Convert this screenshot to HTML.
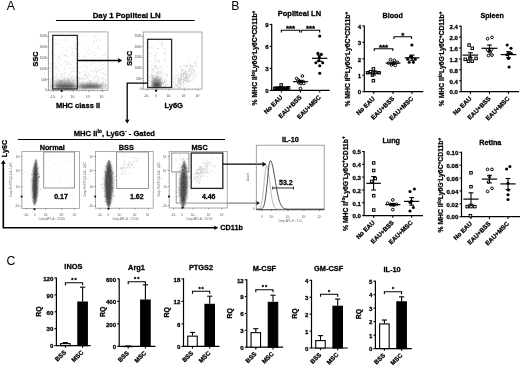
<!DOCTYPE html>
<html><head><meta charset="utf-8"><style>
html,body{margin:0;padding:0;background:#fff;width:520px;height:367px;overflow:hidden}
svg{display:block;font-family:"Liberation Sans", sans-serif;will-change:transform}
text{paint-order:stroke;stroke-linejoin:round}
text[font-weight=bold]{stroke:#000;stroke-width:.28px}
</style></head><body>
<svg width="520" height="367" viewBox="0 0 520 367">
<defs>
<filter id="bl11" x="-50%" y="-50%" width="200%" height="200%"><feGaussianBlur stdDeviation="1.1"/></filter>
<filter id="bl12" x="-50%" y="-50%" width="200%" height="200%"><feGaussianBlur stdDeviation="1.2"/></filter>
<filter id="bl15" x="-50%" y="-50%" width="200%" height="200%"><feGaussianBlur stdDeviation="1.5"/></filter>
<filter id="bl16" x="-50%" y="-50%" width="200%" height="200%"><feGaussianBlur stdDeviation="1.6"/></filter>
<filter id="b08" x="-50%" y="-50%" width="200%" height="200%"><feGaussianBlur stdDeviation="0.8"/></filter>
</defs>
<rect width="520" height="367" fill="#fff"/>
<text x="6.80" y="9.70" font-size="12.3" font-weight="normal" text-anchor="start" fill="#000" >A</text>
<text x="126.70" y="18.40" font-size="7.8" font-weight="bold" text-anchor="middle" fill="#000" >Day 1 Popliteal LN</text>
<line x1="55.90" y1="20.50" x2="194.80" y2="20.50" stroke="#000" stroke-width="1.2" />
<rect x="48.60" y="31.90" width="59.40" height="58.50" stroke="#a0a0a0" stroke-width="0.9" fill="none"/>
<line x1="47.10" y1="36.00" x2="48.60" y2="36.00" stroke="#444" stroke-width="0.6" />
<text x="46.70" y="37.00" font-size="3.0" font-weight="normal" text-anchor="end" fill="#444" >250K</text>
<line x1="47.10" y1="46.90" x2="48.60" y2="46.90" stroke="#444" stroke-width="0.6" />
<text x="46.70" y="47.90" font-size="3.0" font-weight="normal" text-anchor="end" fill="#444" >200K</text>
<line x1="47.10" y1="57.80" x2="48.60" y2="57.80" stroke="#444" stroke-width="0.6" />
<text x="46.70" y="58.80" font-size="3.0" font-weight="normal" text-anchor="end" fill="#444" >150K</text>
<line x1="47.10" y1="68.70" x2="48.60" y2="68.70" stroke="#444" stroke-width="0.6" />
<text x="46.70" y="69.70" font-size="3.0" font-weight="normal" text-anchor="end" fill="#444" >100K</text>
<line x1="47.10" y1="79.60" x2="48.60" y2="79.60" stroke="#444" stroke-width="0.6" />
<text x="46.70" y="80.60" font-size="3.0" font-weight="normal" text-anchor="end" fill="#444" >50K</text>
<line x1="47.10" y1="90.40" x2="48.60" y2="90.40" stroke="#444" stroke-width="0.6" />
<text x="46.70" y="91.40" font-size="3.0" font-weight="normal" text-anchor="end" fill="#444" >0</text>
<line x1="53.20" y1="90.40" x2="53.20" y2="91.90" stroke="#444" stroke-width="0.6" />
<text x="52.70" y="97.80" font-size="3.0" font-weight="normal" text-anchor="middle" fill="#444" >-10³</text>
<line x1="62.00" y1="90.40" x2="62.00" y2="91.90" stroke="#444" stroke-width="0.6" />
<text x="61.50" y="97.80" font-size="3.0" font-weight="normal" text-anchor="middle" fill="#444" >0</text>
<line x1="73.20" y1="90.40" x2="73.20" y2="91.90" stroke="#444" stroke-width="0.6" />
<text x="72.70" y="97.80" font-size="3.0" font-weight="normal" text-anchor="middle" fill="#444" >10³</text>
<line x1="88.80" y1="90.40" x2="88.80" y2="91.90" stroke="#444" stroke-width="0.6" />
<text x="88.30" y="97.80" font-size="3.0" font-weight="normal" text-anchor="middle" fill="#444" >10⁴</text>
<line x1="102.60" y1="90.40" x2="102.60" y2="91.90" stroke="#444" stroke-width="0.6" />
<text x="102.10" y="97.80" font-size="3.0" font-weight="normal" text-anchor="middle" fill="#444" >10⁵</text>
<line x1="54.96" y1="90.40" x2="54.96" y2="91.30" stroke="#777" stroke-width="0.45" />
<line x1="56.72" y1="90.40" x2="56.72" y2="91.30" stroke="#777" stroke-width="0.45" />
<line x1="58.48" y1="90.40" x2="58.48" y2="91.30" stroke="#777" stroke-width="0.45" />
<line x1="60.24" y1="90.40" x2="60.24" y2="91.30" stroke="#777" stroke-width="0.45" />
<line x1="64.24" y1="90.40" x2="64.24" y2="91.30" stroke="#777" stroke-width="0.45" />
<line x1="66.48" y1="90.40" x2="66.48" y2="91.30" stroke="#777" stroke-width="0.45" />
<line x1="68.72" y1="90.40" x2="68.72" y2="91.30" stroke="#777" stroke-width="0.45" />
<line x1="70.96" y1="90.40" x2="70.96" y2="91.30" stroke="#777" stroke-width="0.45" />
<line x1="76.32" y1="90.40" x2="76.32" y2="91.30" stroke="#777" stroke-width="0.45" />
<line x1="79.44" y1="90.40" x2="79.44" y2="91.30" stroke="#777" stroke-width="0.45" />
<line x1="82.56" y1="90.40" x2="82.56" y2="91.30" stroke="#777" stroke-width="0.45" />
<line x1="85.68" y1="90.40" x2="85.68" y2="91.30" stroke="#777" stroke-width="0.45" />
<line x1="91.56" y1="90.40" x2="91.56" y2="91.30" stroke="#777" stroke-width="0.45" />
<line x1="94.32" y1="90.40" x2="94.32" y2="91.30" stroke="#777" stroke-width="0.45" />
<line x1="97.08" y1="90.40" x2="97.08" y2="91.30" stroke="#777" stroke-width="0.45" />
<line x1="99.84" y1="90.40" x2="99.84" y2="91.30" stroke="#777" stroke-width="0.45" />
<line x1="47.70" y1="38.18" x2="48.60" y2="38.18" stroke="#777" stroke-width="0.4" />
<line x1="47.70" y1="40.36" x2="48.60" y2="40.36" stroke="#777" stroke-width="0.4" />
<line x1="47.70" y1="42.54" x2="48.60" y2="42.54" stroke="#777" stroke-width="0.4" />
<line x1="47.70" y1="44.72" x2="48.60" y2="44.72" stroke="#777" stroke-width="0.4" />
<line x1="47.70" y1="49.06" x2="48.60" y2="49.06" stroke="#777" stroke-width="0.4" />
<line x1="47.70" y1="51.24" x2="48.60" y2="51.24" stroke="#777" stroke-width="0.4" />
<line x1="47.70" y1="53.42" x2="48.60" y2="53.42" stroke="#777" stroke-width="0.4" />
<line x1="47.70" y1="55.60" x2="48.60" y2="55.60" stroke="#777" stroke-width="0.4" />
<line x1="47.70" y1="59.94" x2="48.60" y2="59.94" stroke="#777" stroke-width="0.4" />
<line x1="47.70" y1="62.12" x2="48.60" y2="62.12" stroke="#777" stroke-width="0.4" />
<line x1="47.70" y1="64.30" x2="48.60" y2="64.30" stroke="#777" stroke-width="0.4" />
<line x1="47.70" y1="66.48" x2="48.60" y2="66.48" stroke="#777" stroke-width="0.4" />
<line x1="47.70" y1="70.82" x2="48.60" y2="70.82" stroke="#777" stroke-width="0.4" />
<line x1="47.70" y1="73.00" x2="48.60" y2="73.00" stroke="#777" stroke-width="0.4" />
<line x1="47.70" y1="75.18" x2="48.60" y2="75.18" stroke="#777" stroke-width="0.4" />
<line x1="47.70" y1="77.36" x2="48.60" y2="77.36" stroke="#777" stroke-width="0.4" />
<line x1="47.70" y1="81.70" x2="48.60" y2="81.70" stroke="#777" stroke-width="0.4" />
<line x1="47.70" y1="83.88" x2="48.60" y2="83.88" stroke="#777" stroke-width="0.4" />
<line x1="47.70" y1="86.06" x2="48.60" y2="86.06" stroke="#777" stroke-width="0.4" />
<line x1="47.70" y1="88.24" x2="48.60" y2="88.24" stroke="#777" stroke-width="0.4" />
<path d="M68.4 86.1h.01M96.6 84.8h.01M70.8 85.1h.01M54.9 76.8h.01M54.0 49.7h.01M57.0 85.0h.01M85.8 75.6h.01M72.5 88.1h.01M52.6 85.3h.01M80.7 60.6h.01M67.5 78.0h.01M82.4 84.9h.01M71.2 88.1h.01M85.2 86.3h.01M88.6 54.4h.01M102.5 83.4h.01M67.0 86.1h.01M54.6 65.7h.01M79.8 71.2h.01M84.6 84.9h.01M56.7 77.8h.01M103.0 64.7h.01M52.2 51.9h.01M94.8 65.8h.01M69.3 68.8h.01M53.9 85.7h.01M103.7 83.7h.01M91.5 85.7h.01M86.8 59.8h.01M90.7 88.2h.01M51.3 87.1h.01M78.0 88.3h.01M93.6 73.9h.01M102.1 73.1h.01M54.6 79.9h.01M96.5 71.7h.01M65.8 65.1h.01M104.4 85.7h.01M54.7 86.1h.01M77.5 35.8h.01M60.4 84.5h.01M71.0 64.8h.01M87.2 83.9h.01M72.3 35.9h.01M72.4 81.5h.01M53.8 88.6h.01M75.0 85.3h.01M50.0 82.6h.01M80.5 84.3h.01M99.7 69.9h.01M70.7 82.0h.01M77.5 88.7h.01M58.2 89.4h.01M97.1 76.4h.01M79.3 78.5h.01M101.9 89.3h.01M89.5 76.1h.01M79.4 83.2h.01M80.3 66.5h.01M68.7 87.0h.01M95.8 35.5h.01M92.0 86.7h.01M91.5 84.7h.01M94.9 60.4h.01M104.3 86.1h.01M95.9 87.0h.01M54.6 85.8h.01M62.9 79.5h.01M106.0 60.8h.01M97.7 83.7h.01M97.4 88.8h.01M101.7 79.4h.01M100.5 40.6h.01M94.8 62.8h.01M76.3 83.3h.01M91.2 87.5h.01M83.6 75.8h.01M95.8 55.4h.01M87.3 65.7h.01M58.9 88.7h.01M79.9 89.0h.01M74.6 79.1h.01M51.6 78.7h.01M66.6 88.2h.01M80.9 78.9h.01M53.5 83.4h.01M73.9 43.3h.01M58.6 63.3h.01M51.1 87.1h.01M94.1 87.6h.01M53.5 77.5h.01M53.2 88.0h.01M65.7 82.0h.01M51.6 84.8h.01M75.2 48.9h.01M61.3 77.2h.01M75.7 80.6h.01M89.7 85.7h.01M102.4 73.7h.01M57.8 87.8h.01M72.3 71.5h.01M54.2 67.7h.01M94.5 82.1h.01M58.1 86.7h.01M105.0 75.4h.01M100.3 70.1h.01M106.2 80.7h.01M106.5 74.0h.01M69.3 84.8h.01M51.1 52.4h.01M76.1 76.6h.01M85.4 47.1h.01M104.6 75.9h.01M105.2 83.7h.01M54.8 87.1h.01M65.4 72.3h.01M96.6 75.4h.01M73.1 34.7h.01M102.2 83.9h.01M65.9 84.2h.01M74.2 81.0h.01M95.5 85.4h.01M84.5 89.0h.01M75.8 77.1h.01M57.3 40.1h.01M90.3 50.4h.01M52.9 81.5h.01M103.0 82.7h.01M66.5 49.4h.01M88.2 85.8h.01M52.1 82.3h.01M91.6 71.0h.01M64.0 83.4h.01M56.0 76.1h.01M81.0 60.5h.01M105.1 87.5h.01M69.5 84.3h.01M73.0 88.0h.01M50.8 85.1h.01M74.5 47.8h.01M99.4 81.4h.01M84.0 88.6h.01M58.9 81.0h.01M50.2 63.1h.01M68.4 86.8h.01M104.8 88.1h.01M69.0 86.0h.01M77.0 59.4h.01M94.1 89.5h.01M65.0 86.1h.01M72.4 80.9h.01M67.3 83.1h.01M98.5 78.9h.01M87.3 76.4h.01M58.5 88.6h.01M85.6 88.0h.01M82.3 86.4h.01M95.3 88.2h.01M54.8 84.0h.01M71.4 78.4h.01M81.7 81.7h.01M77.8 85.5h.01M55.2 44.9h.01M53.8 89.2h.01M98.1 83.4h.01M91.4 75.8h.01M78.1 42.2h.01M54.4 86.7h.01M85.0 86.0h.01M54.4 82.1h.01M85.3 84.6h.01M50.7 86.6h.01M89.3 80.7h.01M66.5 56.1h.01M93.6 84.3h.01M61.3 80.2h.01M66.4 88.2h.01M96.6 72.4h.01M72.0 87.8h.01M54.2 67.1h.01M104.1 82.4h.01M84.3 87.3h.01M89.9 84.7h.01M78.3 83.8h.01M50.2 68.4h.01M88.7 49.4h.01M69.5 75.1h.01M56.9 82.6h.01M97.7 86.4h.01M103.4 88.7h.01M64.4 88.9h.01M72.3 68.2h.01M102.6 89.3h.01M98.5 88.5h.01M86.1 86.9h.01M64.2 88.6h.01M93.9 53.8h.01M100.2 65.4h.01M81.2 84.3h.01M52.8 88.5h.01M86.6 72.1h.01M77.6 80.9h.01M76.8 78.9h.01M66.0 88.6h.01M73.1 76.4h.01M67.1 82.0h.01M86.5 88.1h.01M61.8 81.7h.01M75.7 79.0h.01M106.6 85.3h.01M63.9 88.1h.01M69.4 79.6h.01M96.0 86.3h.01M100.4 89.4h.01M92.4 81.2h.01M71.4 86.5h.01M82.6 84.6h.01M57.1 78.2h.01M55.3 89.3h.01M71.8 79.1h.01M98.2 86.1h.01M57.2 44.1h.01M105.0 66.4h.01M98.6 46.3h.01M64.1 69.3h.01M105.2 88.0h.01M103.5 81.8h.01M54.8 83.8h.01M50.1 85.8h.01M86.7 74.8h.01M104.7 63.7h.01M89.7 86.0h.01M55.6 83.5h.01M72.0 71.3h.01M94.9 52.2h.01M65.8 89.4h.01M86.6 82.7h.01M81.1 86.5h.01M104.6 88.5h.01M61.0 64.8h.01M54.6 87.2h.01M62.9 85.3h.01M89.5 83.9h.01M61.3 74.6h.01M92.0 84.1h.01M67.7 89.3h.01M63.1 84.7h.01M78.2 81.3h.01M101.7 86.9h.01M103.9 84.7h.01M51.3 53.7h.01M58.1 79.5h.01M75.5 87.7h.01M91.6 52.4h.01M60.8 87.9h.01M92.4 46.1h.01M97.7 84.8h.01M75.1 88.2h.01M70.0 88.5h.01M81.9 88.6h.01M96.7 60.2h.01M55.0 81.3h.01M102.2 84.4h.01M68.4 86.8h.01M64.1 55.6h.01M52.3 88.1h.01M64.6 89.2h.01M101.0 70.5h.01M52.5 78.7h.01M102.5 68.4h.01M102.1 83.4h.01M51.4 86.1h.01M104.2 55.6h.01M94.9 76.9h.01M102.7 81.9h.01M50.5 83.3h.01M84.5 83.8h.01M54.5 86.1h.01M72.2 87.3h.01M77.4 50.6h.01M68.5 81.3h.01M65.0 88.5h.01M59.8 78.1h.01M73.7 40.5h.01M98.1 85.4h.01M94.3 86.0h.01M71.2 77.0h.01M61.3 89.4h.01M66.0 55.7h.01M60.7 83.9h.01M78.8 87.1h.01M86.9 85.9h.01M55.8 69.7h.01M100.1 87.4h.01M52.3 72.2h.01M61.0 87.8h.01M71.1 77.9h.01M94.0 86.2h.01M56.0 80.3h.01M52.1 76.9h.01M58.0 79.7h.01M91.6 83.6h.01M96.3 82.6h.01M60.5 74.6h.01M54.4 55.1h.01M53.6 88.6h.01M95.2 76.1h.01M55.2 85.5h.01M72.6 83.2h.01M73.7 77.7h.01M67.7 63.7h.01M51.0 83.4h.01M86.6 86.3h.01M74.7 84.3h.01M74.1 82.5h.01M76.2 82.1h.01M57.4 73.7h.01M55.1 81.5h.01M102.7 88.7h.01M66.1 62.0h.01M59.8 82.3h.01M67.1 87.9h.01M105.4 79.6h.01M54.9 87.9h.01M89.1 80.6h.01M85.3 48.8h.01M98.1 87.1h.01M52.4 64.4h.01M58.9 86.6h.01M52.3 69.7h.01M97.9 78.4h.01M75.9 59.2h.01M67.5 78.2h.01M74.2 71.8h.01M60.2 85.8h.01M85.2 56.6h.01M94.3 88.1h.01M97.5 88.0h.01M57.3 61.3h.01M70.8 88.0h.01M52.3 80.5h.01M54.7 81.4h.01M100.8 85.5h.01M91.6 81.7h.01M66.4 84.7h.01M89.0 87.5h.01M84.7 78.4h.01M59.0 70.3h.01M58.2 67.7h.01M78.7 86.8h.01M71.1 84.4h.01M88.6 60.6h.01M59.6 84.7h.01M52.8 81.8h.01M104.9 84.9h.01M64.3 73.6h.01M85.8 67.0h.01M71.3 71.9h.01M82.8 56.9h.01M92.2 61.2h.01M67.6 64.6h.01M102.7 84.3h.01M62.6 73.7h.01M85.0 85.1h.01M57.5 85.5h.01M84.8 75.1h.01M70.2 89.1h.01M79.7 73.4h.01M83.5 87.7h.01M70.8 88.4h.01M103.2 85.4h.01M90.2 86.7h.01M99.5 87.7h.01M72.8 88.9h.01M100.7 82.7h.01M64.1 86.2h.01M52.5 81.5h.01M59.0 88.7h.01M50.7 71.4h.01M73.5 55.8h.01M59.9 88.5h.01M90.6 80.4h.01M71.3 81.4h.01M92.1 63.8h.01M60.0 86.4h.01M57.0 89.2h.01M90.4 85.7h.01M105.2 84.3h.01M50.9 89.1h.01M103.7 77.8h.01M60.9 58.4h.01M101.5 50.2h.01M76.7 86.2h.01M74.8 79.0h.01M82.4 78.5h.01M83.2 60.5h.01M101.7 88.9h.01M85.3 88.0h.01M69.6 88.9h.01M57.9 88.7h.01M89.6 88.1h.01M93.3 86.6h.01M96.4 85.9h.01M56.1 89.0h.01M103.9 87.6h.01M96.9 87.3h.01M57.5 84.7h.01M66.7 83.1h.01M64.6 78.8h.01M52.7 83.4h.01M78.6 54.4h.01M85.1 59.1h.01M79.5 88.7h.01M69.7 86.7h.01M90.6 84.7h.01M82.6 78.4h.01M61.5 85.3h.01M50.2 80.2h.01M104.9 86.5h.01M69.7 86.4h.01M66.1 84.1h.01M103.3 89.2h.01M77.8 62.6h.01M94.7 70.0h.01M102.7 86.8h.01M74.0 80.1h.01M64.9 55.1h.01M78.5 77.4h.01M103.6 78.1h.01M80.2 89.3h.01M69.8 62.8h.01M79.6 56.3h.01M92.1 83.0h.01M76.3 87.2h.01M57.2 68.0h.01M86.5 83.2h.01M67.1 38.9h.01M58.8 82.8h.01M84.2 79.5h.01M59.1 88.3h.01M59.3 87.2h.01M61.1 84.2h.01M91.7 75.7h.01M65.6 62.3h.01M61.7 47.6h.01M89.4 82.5h.01M105.7 88.5h.01M84.3 83.4h.01M50.3 85.2h.01M98.1 57.2h.01M98.4 79.4h.01M86.4 86.2h.01M100.8 87.5h.01M94.4 84.3h.01M98.2 48.3h.01M75.9 83.6h.01M100.8 78.1h.01M94.2 85.9h.01M52.2 55.9h.01M62.4 85.4h.01M79.5 79.9h.01M98.1 69.9h.01M79.1 86.6h.01M79.6 73.1h.01M106.2 79.1h.01M72.3 87.7h.01M70.2 87.5h.01M64.3 88.4h.01M73.8 82.3h.01M85.7 87.1h.01M62.7 54.3h.01M103.4 68.7h.01M76.2 88.5h.01M57.3 87.1h.01M90.9 82.8h.01M76.6 81.2h.01M93.2 58.7h.01M70.1 78.3h.01M65.2 73.2h.01M88.6 73.4h.01M50.2 88.4h.01M87.2 76.7h.01M77.2 69.0h.01M58.7 79.6h.01M98.5 61.4h.01M94.5 84.2h.01M80.1 86.5h.01M61.9 85.1h.01M87.3 89.5h.01M98.5 85.8h.01M94.1 79.7h.01M95.0 85.7h.01M84.6 85.3h.01M94.8 86.7h.01M80.1 72.6h.01M88.1 78.3h.01M63.3 86.8h.01M76.9 80.9h.01M89.8 86.3h.01M78.3 81.8h.01M59.1 81.7h.01M76.6 48.5h.01M71.3 72.5h.01M106.8 85.0h.01M86.1 87.2h.01M51.2 64.4h.01M95.9 87.6h.01M79.0 81.0h.01M62.1 83.3h.01M85.5 72.7h.01M81.5 78.4h.01M74.0 70.2h.01M53.0 82.7h.01M72.9 48.6h.01M105.9 84.4h.01M87.2 86.9h.01M68.8 74.0h.01M105.3 86.4h.01M94.5 43.0h.01M81.0 87.9h.01M72.6 82.3h.01M84.6 88.7h.01M94.8 37.3h.01M58.4 56.3h.01M99.8 82.1h.01M85.5 88.4h.01M55.8 89.0h.01M101.9 88.5h.01M71.0 54.7h.01M90.3 64.3h.01M60.5 80.6h.01M86.5 89.3h.01M78.3 34.1h.01M82.7 81.7h.01M75.4 45.1h.01M106.4 88.8h.01M77.0 77.6h.01M62.1 87.6h.01M85.6 89.0h.01M106.0 89.3h.01M62.4 76.4h.01M90.9 83.3h.01M75.6 88.2h.01M94.0 71.4h.01M91.4 53.1h.01M76.2 78.1h.01M101.9 88.5h.01M50.8 85.8h.01M54.5 84.7h.01M104.4 44.5h.01M84.6 59.9h.01M76.7 71.7h.01M58.2 87.3h.01M85.8 62.2h.01M77.1 86.4h.01M94.6 40.9h.01M69.0 77.8h.01M91.2 80.4h.01M83.2 89.1h.01M71.4 85.2h.01M95.9 69.6h.01M89.1 86.8h.01M83.3 86.7h.01M88.9 86.3h.01M80.7 75.2h.01M95.3 85.4h.01M67.6 83.2h.01M88.5 78.9h.01M83.3 88.9h.01M95.0 82.9h.01M93.9 88.6h.01M72.6 54.9h.01M68.2 84.9h.01M83.5 87.5h.01M95.8 79.8h.01M70.6 47.5h.01M98.7 86.3h.01M52.5 85.6h.01M71.1 89.0h.01M94.7 77.5h.01M65.9 39.1h.01M77.6 60.8h.01M62.1 86.6h.01M103.8 73.0h.01M96.5 86.5h.01M69.2 88.1h.01M71.5 85.3h.01M99.5 88.1h.01M77.7 35.5h.01M86.3 82.5h.01M90.1 83.6h.01M86.4 68.4h.01M72.3 85.0h.01M106.3 88.0h.01M59.8 80.6h.01M101.3 86.1h.01M97.6 39.1h.01M53.2 85.4h.01M68.0 78.8h.01M83.5 88.8h.01M93.0 78.3h.01M72.2 80.8h.01M77.3 86.6h.01M101.9 86.9h.01M76.6 77.3h.01M102.7 82.0h.01M54.4 83.8h.01M94.2 86.9h.01M102.6 88.9h.01M75.7 87.3h.01M68.3 88.7h.01M58.1 85.6h.01M91.8 85.8h.01M74.9 81.6h.01M65.1 81.6h.01M82.4 84.6h.01M69.0 80.3h.01M75.9 59.2h.01M56.5 86.8h.01M81.8 88.8h.01M56.8 87.1h.01M106.3 68.3h.01M102.5 84.1h.01M53.3 81.9h.01M58.2 58.5h.01M69.4 82.8h.01M75.2 80.1h.01M52.3 84.1h.01M57.8 86.0h.01M79.6 86.1h.01M54.5 87.0h.01M100.5 87.9h.01M88.1 82.3h.01M61.5 87.6h.01M89.3 81.9h.01M79.4 85.7h.01M69.0 56.8h.01M55.1 39.2h.01M101.7 57.4h.01M64.1 76.1h.01M97.2 83.1h.01M82.7 87.7h.01M70.2 79.9h.01M56.9 80.8h.01M96.4 72.0h.01M82.7 86.9h.01M66.6 51.6h.01M79.2 43.8h.01M95.7 87.5h.01M62.7 85.0h.01M59.5 87.6h.01M51.1 80.1h.01M64.8 67.2h.01M79.7 53.1h.01M55.8 85.2h.01M65.5 54.7h.01M78.0 86.3h.01M56.9 89.5h.01M80.8 84.9h.01M76.2 68.2h.01M59.3 57.0h.01M97.7 85.5h.01M94.1 86.9h.01M72.8 51.8h.01M95.7 68.0h.01M96.3 80.9h.01M58.3 85.2h.01M64.2 69.5h.01M56.2 84.2h.01M53.9 85.2h.01M62.8 75.0h.01M105.1 87.9h.01M96.0 80.2h.01M52.0 67.2h.01M65.5 62.0h.01M95.8 87.7h.01M79.6 86.4h.01M63.4 81.9h.01M86.8 89.0h.01M53.4 54.6h.01M54.8 63.7h.01M80.3 87.0h.01M100.3 77.1h.01M82.8 78.4h.01M66.3 41.1h.01M84.6 79.0h.01M81.2 79.6h.01M76.2 50.0h.01M96.5 87.9h.01M63.8 83.1h.01M105.1 54.1h.01M50.7 79.9h.01M68.4 64.1h.01M77.9 79.2h.01M53.2 77.9h.01M59.0 34.0h.01M87.4 52.4h.01M72.0 83.4h.01M79.6 84.7h.01M73.7 87.3h.01M85.0 81.8h.01M96.6 40.7h.01M65.3 88.0h.01M73.5 52.7h.01M83.3 70.9h.01M72.6 80.4h.01M99.6 88.4h.01M56.3 74.8h.01M91.1 69.8h.01M70.0 68.3h.01M50.4 82.9h.01M71.6 86.4h.01M74.7 54.1h.01M83.0 58.9h.01M105.0 36.4h.01M97.6 69.9h.01M100.6 88.8h.01M51.5 88.1h.01M102.3 55.5h.01M80.6 35.2h.01M91.3 89.1h.01M72.1 76.0h.01M75.7 85.3h.01M88.4 82.3h.01M78.5 86.3h.01M102.7 78.5h.01M77.6 73.5h.01M93.6 41.2h.01M92.4 86.3h.01M59.7 71.1h.01M79.1 79.4h.01M87.3 78.0h.01M100.4 63.1h.01M85.8 74.9h.01M78.7 87.3h.01M73.4 84.7h.01M70.1 87.6h.01M89.3 86.2h.01M50.2 89.4h.01M72.6 88.9h.01M61.2 86.4h.01M79.2 82.9h.01M82.6 86.0h.01M79.4 77.4h.01M56.1 67.2h.01M77.9 78.7h.01M84.8 89.0h.01M88.9 74.4h.01M68.3 87.9h.01M51.9 85.8h.01M98.8 86.8h.01M75.6 86.0h.01M51.1 88.7h.01M75.0 45.1h.01M63.5 85.0h.01M98.5 80.2h.01M50.4 67.3h.01M84.2 65.0h.01" stroke="#b4b4b4" stroke-width="0.72" stroke-linecap="round" opacity="0.75"/>
<ellipse cx="64.5" cy="83" rx="9.5" ry="3.5" fill="#c0c0c0" filter="url(#bl15)"/>
<ellipse cx="90" cy="84.8" rx="11" ry="2.3" fill="#cacaca" filter="url(#bl15)"/>
<ellipse cx="65.5" cy="86.3" rx="10.5" ry="1.7" fill="#555" filter="url(#bl11)"/>
<ellipse cx="90.5" cy="86.5" rx="11.5" ry="1.4" fill="#626262" filter="url(#bl11)"/>
<path d="M67.2 85.7h.01M61.0 82.8h.01M59.7 84.6h.01M57.4 87.9h.01M77.0 86.4h.01M68.1 86.5h.01M64.5 86.0h.01M69.5 84.3h.01M61.5 87.3h.01M68.8 84.4h.01M56.1 81.2h.01M59.4 85.1h.01M59.6 86.2h.01M60.5 86.5h.01M75.7 86.4h.01M65.2 87.0h.01M67.5 88.4h.01M66.8 83.1h.01M54.5 86.6h.01M65.4 87.9h.01M66.3 88.0h.01M59.6 83.7h.01M63.0 88.2h.01M58.5 81.1h.01M73.1 85.8h.01M59.0 85.3h.01M61.9 85.7h.01M65.0 82.5h.01M74.8 88.1h.01M64.1 82.1h.01M74.4 86.4h.01M65.6 86.1h.01M62.7 82.5h.01M65.7 84.2h.01M77.1 87.8h.01M68.4 82.3h.01M69.2 86.8h.01M67.5 83.8h.01M56.8 86.5h.01M56.7 82.6h.01M68.4 85.3h.01M57.8 88.7h.01M60.4 81.4h.01M74.2 86.3h.01M54.4 88.6h.01M69.1 86.9h.01M63.9 88.8h.01M58.2 87.5h.01M55.8 87.4h.01M70.5 88.8h.01M57.0 84.8h.01M72.2 84.8h.01M66.0 88.4h.01M61.2 83.3h.01M67.7 85.4h.01M65.8 82.6h.01M74.9 83.2h.01M57.0 84.1h.01M74.0 85.3h.01M70.1 86.2h.01M65.9 83.8h.01M70.3 84.6h.01M64.2 78.0h.01M61.8 84.8h.01M59.5 85.5h.01M71.2 85.1h.01M61.2 88.0h.01M60.7 81.9h.01M60.0 83.9h.01M63.2 84.5h.01M59.6 82.0h.01M66.2 83.3h.01M68.5 83.3h.01M66.6 87.0h.01M65.8 84.2h.01M67.7 87.6h.01M72.1 87.5h.01M70.9 88.3h.01M58.1 86.0h.01M64.8 85.6h.01M63.8 84.7h.01M59.1 83.2h.01M71.3 88.4h.01M61.2 84.9h.01M62.9 85.0h.01M63.5 84.7h.01M76.4 85.3h.01M61.6 86.6h.01M64.7 85.5h.01M63.2 85.9h.01M69.1 84.7h.01M69.0 87.0h.01M68.5 85.5h.01M57.7 86.8h.01M63.1 88.5h.01M71.5 86.5h.01M71.9 85.5h.01M64.9 83.8h.01M64.7 84.1h.01M55.8 81.4h.01M54.5 86.1h.01M62.5 87.7h.01M69.1 86.8h.01M57.6 83.5h.01M62.3 82.8h.01M73.8 87.5h.01M70.9 86.1h.01M68.5 87.5h.01M72.1 85.2h.01M72.2 83.8h.01M72.7 87.9h.01M61.9 88.6h.01M58.7 88.0h.01M62.3 87.0h.01M67.4 84.4h.01M67.7 86.2h.01M69.4 81.1h.01M71.1 85.8h.01M69.0 86.3h.01M56.4 87.5h.01M73.1 85.7h.01M62.7 84.9h.01M65.5 87.0h.01M61.0 84.1h.01M76.6 85.2h.01M60.8 86.0h.01M63.9 86.2h.01M56.3 83.1h.01M61.7 85.7h.01M66.8 86.1h.01M61.9 81.3h.01M65.7 85.9h.01M68.6 85.4h.01M64.1 83.7h.01M75.8 85.9h.01M61.5 83.3h.01M57.6 86.3h.01M58.7 85.6h.01M56.8 85.1h.01M68.4 87.6h.01M63.1 85.2h.01M68.5 82.5h.01M60.7 88.6h.01M59.2 84.9h.01M59.1 88.2h.01M56.7 85.2h.01M67.5 84.5h.01M64.4 82.4h.01M69.8 88.1h.01M62.2 87.1h.01M60.6 86.4h.01M62.7 84.7h.01M60.5 82.8h.01M66.0 88.2h.01M56.0 84.9h.01M63.8 81.0h.01M54.3 84.0h.01M60.4 82.2h.01M69.7 87.7h.01M53.6 85.6h.01M73.0 84.8h.01M72.0 85.1h.01M56.2 86.6h.01M67.4 88.1h.01M69.8 87.0h.01M60.5 84.3h.01M66.7 86.0h.01M60.5 80.6h.01M62.1 86.1h.01M65.9 86.8h.01M64.2 83.8h.01M57.3 88.9h.01M68.3 82.4h.01M69.6 85.9h.01M65.5 88.4h.01M59.4 85.5h.01M54.0 86.1h.01M61.6 87.4h.01M61.2 88.4h.01M77.9 86.8h.01M65.3 87.9h.01M64.6 85.4h.01M71.4 85.6h.01M66.8 83.3h.01M69.2 86.6h.01M71.3 83.5h.01M69.1 83.3h.01M65.3 84.1h.01M63.7 86.0h.01M71.9 85.7h.01M63.5 85.9h.01M66.2 85.1h.01M58.7 83.6h.01M55.7 83.3h.01M74.0 85.1h.01M60.9 86.3h.01M72.0 85.1h.01M60.3 87.9h.01M63.8 86.9h.01M62.1 84.7h.01M69.1 82.6h.01M61.7 88.0h.01M69.8 85.1h.01M61.5 88.0h.01M65.7 87.4h.01M70.9 83.7h.01M58.4 83.2h.01M68.7 87.5h.01M82.0 88.4h.01M60.1 88.0h.01M62.2 85.2h.01M60.8 81.2h.01M67.2 85.2h.01M67.0 88.0h.01M62.5 85.4h.01M67.8 82.0h.01M66.5 86.5h.01M70.3 85.3h.01M63.8 83.9h.01M62.5 82.7h.01M72.8 83.2h.01M72.4 78.9h.01M67.4 87.0h.01M71.9 83.7h.01M60.0 87.0h.01M66.9 80.8h.01M62.1 85.2h.01M64.1 84.2h.01M57.1 84.4h.01M67.3 85.6h.01M60.6 84.8h.01M60.9 87.8h.01M74.0 85.2h.01M62.6 80.9h.01M67.8 84.2h.01M55.3 84.7h.01M61.9 84.6h.01M66.9 85.9h.01M63.6 88.3h.01M68.6 86.8h.01M68.0 86.2h.01M67.2 86.1h.01M68.2 83.2h.01M64.9 85.6h.01M63.9 88.9h.01M70.3 86.0h.01M70.2 86.1h.01M65.9 85.4h.01M56.8 86.1h.01M66.2 84.5h.01M72.0 82.8h.01M72.1 87.4h.01M67.9 79.4h.01M53.5 88.9h.01M66.0 85.4h.01M61.4 88.7h.01M62.6 87.9h.01M62.2 81.8h.01M65.6 86.2h.01M66.8 88.4h.01M68.0 84.1h.01M61.4 87.3h.01M59.9 81.8h.01M61.1 85.1h.01M56.9 83.1h.01M63.5 85.9h.01M59.8 83.2h.01M56.1 84.7h.01M59.7 85.0h.01M60.3 85.5h.01M64.9 88.6h.01M73.8 88.1h.01M68.4 85.6h.01M60.8 84.2h.01M79.0 85.1h.01M62.8 85.0h.01M61.1 85.4h.01M65.8 84.1h.01M57.3 83.6h.01M74.9 83.2h.01M71.4 82.8h.01M59.5 85.4h.01M63.4 83.5h.01M67.6 84.6h.01M76.0 83.3h.01M61.8 86.8h.01M65.3 85.3h.01M64.4 85.5h.01M69.6 81.2h.01M62.4 84.0h.01M65.8 87.9h.01M69.9 84.6h.01M58.4 82.2h.01M66.2 85.9h.01M63.9 84.2h.01M61.8 87.3h.01M60.7 86.6h.01M70.1 84.0h.01M75.5 85.3h.01M66.8 80.4h.01M68.3 87.2h.01M65.5 85.9h.01M68.2 84.6h.01M61.5 88.5h.01M69.0 85.4h.01M74.9 87.0h.01M70.8 82.9h.01M74.9 86.9h.01M59.1 86.7h.01M60.7 82.1h.01M68.4 87.2h.01M59.4 85.8h.01M65.1 83.3h.01M60.0 87.2h.01M59.4 83.3h.01M60.7 87.0h.01M71.3 84.0h.01M67.5 88.7h.01M68.2 85.9h.01M58.5 84.2h.01M61.9 82.4h.01M77.1 87.2h.01M67.7 86.2h.01M80.4 84.2h.01M64.6 85.8h.01M66.2 88.5h.01M60.0 83.7h.01M72.4 85.7h.01M73.0 81.1h.01M79.1 88.5h.01M74.7 81.1h.01M65.4 86.6h.01M64.7 85.4h.01M65.6 86.5h.01M68.6 80.5h.01M64.4 87.7h.01M71.4 86.4h.01M63.9 87.7h.01M64.9 84.1h.01M58.4 87.1h.01M62.5 86.6h.01M65.9 81.3h.01M69.2 81.4h.01M62.1 84.6h.01M61.6 82.5h.01M76.2 85.6h.01M63.7 85.0h.01M63.9 85.4h.01M63.7 83.6h.01M56.5 84.6h.01M78.9 87.0h.01M79.9 86.8h.01M78.6 86.6h.01M82.8 86.5h.01M82.5 85.8h.01M96.4 83.7h.01M95.1 85.1h.01M88.8 88.5h.01M91.4 85.7h.01M93.5 83.9h.01M102.1 84.9h.01M94.6 85.0h.01M81.2 85.1h.01M93.0 86.2h.01M90.3 84.7h.01M91.4 87.1h.01M82.0 88.0h.01M96.8 88.1h.01M97.2 84.4h.01M96.0 85.4h.01M79.7 88.6h.01M82.6 86.9h.01M87.7 84.7h.01M82.2 88.0h.01M83.3 86.0h.01M86.6 85.1h.01M87.8 87.9h.01M98.7 87.7h.01M89.4 85.2h.01M89.1 86.2h.01M96.3 87.6h.01M84.0 84.3h.01M75.8 85.8h.01M89.8 88.2h.01M96.2 86.2h.01M84.2 85.5h.01M72.9 85.2h.01M89.8 87.5h.01M81.0 86.9h.01M86.6 86.2h.01M86.5 88.9h.01M101.2 85.0h.01M88.3 86.5h.01M90.4 82.0h.01M80.1 87.1h.01M89.7 87.4h.01M92.5 85.5h.01M73.8 83.2h.01M96.3 84.5h.01M95.0 86.6h.01M92.1 85.7h.01M82.5 86.7h.01M73.9 88.1h.01M81.2 84.0h.01M98.0 87.5h.01M101.4 85.2h.01M66.1 88.2h.01M91.3 86.7h.01M86.5 86.7h.01M90.0 86.0h.01M90.6 87.3h.01M72.4 85.3h.01M88.0 87.6h.01M83.2 87.4h.01M103.1 87.9h.01M88.7 86.1h.01M74.5 86.3h.01M91.9 87.9h.01M92.4 85.2h.01M81.8 88.9h.01M77.4 85.4h.01M92.4 85.5h.01M87.9 86.5h.01M85.1 85.2h.01M93.9 88.0h.01M86.6 86.1h.01M81.2 87.8h.01M87.6 87.7h.01M99.1 84.6h.01M87.9 87.3h.01M83.7 87.4h.01M83.4 85.9h.01M93.7 87.0h.01M79.3 83.2h.01M83.0 84.1h.01M85.2 87.7h.01M86.8 83.9h.01M89.9 86.0h.01M91.0 85.8h.01M91.6 87.9h.01M91.7 87.2h.01M100.8 85.8h.01M79.3 87.6h.01M91.5 87.2h.01M93.1 86.8h.01M100.7 84.2h.01M88.6 86.2h.01M87.7 83.6h.01M92.9 87.2h.01M87.5 83.6h.01M93.2 84.3h.01M97.5 88.5h.01M87.9 84.3h.01M84.8 86.4h.01M92.2 86.5h.01M87.7 84.5h.01M75.7 87.7h.01M93.8 85.8h.01M94.7 87.7h.01M90.8 82.9h.01M93.7 83.8h.01M88.7 84.8h.01M89.5 88.2h.01M87.1 85.2h.01M97.0 86.0h.01M93.7 87.3h.01M83.1 84.2h.01M91.5 87.1h.01M92.9 87.5h.01M88.2 86.5h.01M83.0 88.1h.01M92.9 88.5h.01M86.9 86.1h.01M88.5 86.2h.01M93.3 82.9h.01M94.6 85.6h.01M88.7 87.5h.01M78.4 84.8h.01M92.7 87.9h.01M91.5 83.5h.01M98.7 85.0h.01M86.8 88.2h.01M90.3 86.2h.01M91.6 87.1h.01M88.5 87.1h.01M84.6 87.7h.01M86.4 87.5h.01M101.7 88.1h.01M94.6 83.8h.01M77.3 86.9h.01M93.6 86.8h.01M88.3 86.5h.01M100.2 86.7h.01M79.4 87.5h.01M76.9 87.7h.01M101.5 87.4h.01M89.3 84.7h.01M88.2 85.6h.01M101.5 86.3h.01M93.5 85.0h.01M89.7 87.0h.01M90.3 87.1h.01M88.7 88.2h.01M87.3 87.3h.01M87.9 86.0h.01M87.9 88.2h.01M88.5 84.2h.01M90.2 86.9h.01M92.1 86.5h.01M93.2 83.8h.01M93.2 88.8h.01M94.2 86.7h.01M105.4 81.4h.01M80.1 87.2h.01M98.0 87.5h.01M98.6 87.8h.01M91.2 87.4h.01M91.5 84.3h.01M96.2 83.5h.01M96.5 86.8h.01M94.5 86.8h.01M90.7 85.2h.01M88.9 86.8h.01M90.6 84.1h.01M92.9 87.5h.01M102.8 85.0h.01M103.8 86.8h.01M95.7 87.7h.01M97.1 88.7h.01M90.7 85.1h.01M100.8 85.1h.01M89.2 85.6h.01M106.5 86.3h.01M99.5 86.7h.01M88.5 86.7h.01M87.7 85.9h.01M91.7 85.8h.01M84.5 87.4h.01M77.6 82.7h.01M77.5 84.8h.01M76.3 86.3h.01M83.8 86.2h.01M87.6 84.9h.01M98.5 86.8h.01M92.9 83.9h.01M94.0 87.6h.01M78.0 83.3h.01M76.8 86.0h.01M80.3 84.9h.01M88.0 85.8h.01M93.0 83.4h.01M90.1 83.1h.01M90.7 88.3h.01M74.8 85.0h.01M73.4 84.5h.01M92.0 85.9h.01M85.9 84.8h.01M80.4 84.2h.01M85.7 87.5h.01M95.5 85.8h.01M83.3 83.7h.01M81.0 83.2h.01M83.9 86.8h.01M86.6 88.3h.01M105.6 85.2h.01M81.9 86.5h.01M88.6 87.1h.01M86.8 86.0h.01M83.0 87.3h.01M97.1 86.5h.01M95.1 86.2h.01M96.3 85.2h.01M84.2 85.9h.01M92.4 88.4h.01M77.9 88.6h.01M84.5 87.1h.01M92.8 87.0h.01M81.2 88.6h.01M105.0 83.5h.01M87.5 87.5h.01M100.1 84.2h.01M77.6 84.2h.01M97.8 85.9h.01M105.7 86.4h.01M94.8 86.9h.01M79.3 85.3h.01M89.0 83.8h.01M103.0 85.9h.01M90.2 83.8h.01M98.8 88.2h.01M89.8 87.9h.01M82.9 86.1h.01M89.3 87.5h.01M85.7 88.6h.01M82.7 82.7h.01M91.0 85.7h.01M84.7 84.7h.01M89.5 85.9h.01M101.9 83.8h.01M95.7 87.3h.01M86.4 88.0h.01M96.3 88.0h.01M71.2 87.2h.01M89.1 86.2h.01M95.9 85.7h.01M62.1 85.9h.01M94.9 88.1h.01M101.2 85.9h.01M90.7 89.0h.01M100.0 86.5h.01M87.2 86.6h.01M100.9 85.5h.01M68.3 86.4h.01M79.0 88.9h.01M83.2 88.9h.01M87.5 86.2h.01M73.4 85.5h.01M94.4 89.0h.01M96.4 86.7h.01M78.0 85.9h.01M98.9 85.0h.01M103.6 85.7h.01M82.2 88.1h.01M79.0 86.6h.01M97.3 85.5h.01M86.8 84.8h.01M84.0 88.8h.01M86.2 86.3h.01M100.0 85.2h.01M81.8 86.2h.01M96.2 86.6h.01M78.5 85.7h.01M94.8 84.9h.01M97.1 86.9h.01M88.4 84.6h.01M95.8 83.3h.01M96.3 87.4h.01M99.8 86.3h.01M87.8 84.9h.01M83.9 85.3h.01M92.6 85.7h.01M78.0 84.4h.01M96.4 84.0h.01M94.4 85.8h.01M95.7 88.5h.01M89.8 85.4h.01M77.4 87.9h.01M93.8 83.2h.01M82.4 87.3h.01M81.7 88.9h.01" stroke="#555" stroke-width="0.90" stroke-linecap="round" opacity="0.35"/>
<circle cx="61.6" cy="91" r="1.1" fill="#000"/>
<rect x="52.70" y="35.40" width="24.70" height="53.60" stroke="#2a2a2a" stroke-width="1.3" fill="none"/>
<text x="35.60" y="59.00" font-size="7.2" font-weight="bold" text-anchor="middle" fill="#000" transform="rotate(-90 35.6 59)" dominant-baseline="middle">SSC</text>
<text x="78.00" y="107.50" font-size="7.5" font-weight="bold" text-anchor="middle" fill="#000" >MHC class II</text>
<line x1="77.40" y1="60.50" x2="119.00" y2="60.50" stroke="#000" stroke-width="1.3" />
<polygon points="122.20,60.50 118.00,58.06 118.63,60.50 118.00,62.94" fill="#000"/>
<rect x="143.30" y="32.00" width="58.70" height="57.10" stroke="#a0a0a0" stroke-width="0.9" fill="none"/>
<line x1="141.80" y1="36.20" x2="143.30" y2="36.20" stroke="#444" stroke-width="0.6" />
<text x="141.40" y="37.20" font-size="3.0" font-weight="normal" text-anchor="end" fill="#444" >250K</text>
<line x1="141.80" y1="46.80" x2="143.30" y2="46.80" stroke="#444" stroke-width="0.6" />
<text x="141.40" y="47.80" font-size="3.0" font-weight="normal" text-anchor="end" fill="#444" >200K</text>
<line x1="141.80" y1="57.40" x2="143.30" y2="57.40" stroke="#444" stroke-width="0.6" />
<text x="141.40" y="58.40" font-size="3.0" font-weight="normal" text-anchor="end" fill="#444" >150K</text>
<line x1="141.80" y1="68.00" x2="143.30" y2="68.00" stroke="#444" stroke-width="0.6" />
<text x="141.40" y="69.00" font-size="3.0" font-weight="normal" text-anchor="end" fill="#444" >100K</text>
<line x1="141.80" y1="78.60" x2="143.30" y2="78.60" stroke="#444" stroke-width="0.6" />
<text x="141.40" y="79.60" font-size="3.0" font-weight="normal" text-anchor="end" fill="#444" >50K</text>
<line x1="141.80" y1="89.00" x2="143.30" y2="89.00" stroke="#444" stroke-width="0.6" />
<text x="141.40" y="90.00" font-size="3.0" font-weight="normal" text-anchor="end" fill="#444" >0</text>
<line x1="147.00" y1="89.10" x2="147.00" y2="90.60" stroke="#444" stroke-width="0.6" />
<text x="146.50" y="96.50" font-size="3.0" font-weight="normal" text-anchor="middle" fill="#444" >-10³</text>
<line x1="156.30" y1="89.10" x2="156.30" y2="90.60" stroke="#444" stroke-width="0.6" />
<text x="155.80" y="96.50" font-size="3.0" font-weight="normal" text-anchor="middle" fill="#444" >0</text>
<line x1="169.00" y1="89.10" x2="169.00" y2="90.60" stroke="#444" stroke-width="0.6" />
<text x="168.50" y="96.50" font-size="3.0" font-weight="normal" text-anchor="middle" fill="#444" >10³</text>
<line x1="184.30" y1="89.10" x2="184.30" y2="90.60" stroke="#444" stroke-width="0.6" />
<text x="183.80" y="96.50" font-size="3.0" font-weight="normal" text-anchor="middle" fill="#444" >10⁴</text>
<line x1="198.20" y1="89.10" x2="198.20" y2="90.60" stroke="#444" stroke-width="0.6" />
<text x="197.70" y="96.50" font-size="3.0" font-weight="normal" text-anchor="middle" fill="#444" >10⁵</text>
<line x1="148.86" y1="89.10" x2="148.86" y2="90.00" stroke="#777" stroke-width="0.45" />
<line x1="150.72" y1="89.10" x2="150.72" y2="90.00" stroke="#777" stroke-width="0.45" />
<line x1="152.58" y1="89.10" x2="152.58" y2="90.00" stroke="#777" stroke-width="0.45" />
<line x1="154.44" y1="89.10" x2="154.44" y2="90.00" stroke="#777" stroke-width="0.45" />
<line x1="158.84" y1="89.10" x2="158.84" y2="90.00" stroke="#777" stroke-width="0.45" />
<line x1="161.38" y1="89.10" x2="161.38" y2="90.00" stroke="#777" stroke-width="0.45" />
<line x1="163.92" y1="89.10" x2="163.92" y2="90.00" stroke="#777" stroke-width="0.45" />
<line x1="166.46" y1="89.10" x2="166.46" y2="90.00" stroke="#777" stroke-width="0.45" />
<line x1="172.06" y1="89.10" x2="172.06" y2="90.00" stroke="#777" stroke-width="0.45" />
<line x1="175.12" y1="89.10" x2="175.12" y2="90.00" stroke="#777" stroke-width="0.45" />
<line x1="178.18" y1="89.10" x2="178.18" y2="90.00" stroke="#777" stroke-width="0.45" />
<line x1="181.24" y1="89.10" x2="181.24" y2="90.00" stroke="#777" stroke-width="0.45" />
<line x1="187.08" y1="89.10" x2="187.08" y2="90.00" stroke="#777" stroke-width="0.45" />
<line x1="189.86" y1="89.10" x2="189.86" y2="90.00" stroke="#777" stroke-width="0.45" />
<line x1="192.64" y1="89.10" x2="192.64" y2="90.00" stroke="#777" stroke-width="0.45" />
<line x1="195.42" y1="89.10" x2="195.42" y2="90.00" stroke="#777" stroke-width="0.45" />
<line x1="142.40" y1="38.32" x2="143.30" y2="38.32" stroke="#777" stroke-width="0.4" />
<line x1="142.40" y1="40.44" x2="143.30" y2="40.44" stroke="#777" stroke-width="0.4" />
<line x1="142.40" y1="42.56" x2="143.30" y2="42.56" stroke="#777" stroke-width="0.4" />
<line x1="142.40" y1="44.68" x2="143.30" y2="44.68" stroke="#777" stroke-width="0.4" />
<line x1="142.40" y1="48.92" x2="143.30" y2="48.92" stroke="#777" stroke-width="0.4" />
<line x1="142.40" y1="51.04" x2="143.30" y2="51.04" stroke="#777" stroke-width="0.4" />
<line x1="142.40" y1="53.16" x2="143.30" y2="53.16" stroke="#777" stroke-width="0.4" />
<line x1="142.40" y1="55.28" x2="143.30" y2="55.28" stroke="#777" stroke-width="0.4" />
<line x1="142.40" y1="59.52" x2="143.30" y2="59.52" stroke="#777" stroke-width="0.4" />
<line x1="142.40" y1="61.64" x2="143.30" y2="61.64" stroke="#777" stroke-width="0.4" />
<line x1="142.40" y1="63.76" x2="143.30" y2="63.76" stroke="#777" stroke-width="0.4" />
<line x1="142.40" y1="65.88" x2="143.30" y2="65.88" stroke="#777" stroke-width="0.4" />
<line x1="142.40" y1="70.12" x2="143.30" y2="70.12" stroke="#777" stroke-width="0.4" />
<line x1="142.40" y1="72.24" x2="143.30" y2="72.24" stroke="#777" stroke-width="0.4" />
<line x1="142.40" y1="74.36" x2="143.30" y2="74.36" stroke="#777" stroke-width="0.4" />
<line x1="142.40" y1="76.48" x2="143.30" y2="76.48" stroke="#777" stroke-width="0.4" />
<line x1="142.40" y1="80.72" x2="143.30" y2="80.72" stroke="#777" stroke-width="0.4" />
<line x1="142.40" y1="82.84" x2="143.30" y2="82.84" stroke="#777" stroke-width="0.4" />
<line x1="142.40" y1="84.96" x2="143.30" y2="84.96" stroke="#777" stroke-width="0.4" />
<line x1="142.40" y1="87.08" x2="143.30" y2="87.08" stroke="#777" stroke-width="0.4" />
<path d="M157.4 69.1h.01M151.4 84.0h.01M160.7 82.6h.01M159.5 86.6h.01M162.0 46.3h.01M155.2 78.0h.01M156.7 72.7h.01M161.9 78.3h.01M155.3 68.4h.01M163.6 54.5h.01M153.8 62.4h.01M158.7 82.5h.01M154.3 80.0h.01M153.6 78.4h.01M166.0 74.2h.01M164.3 87.8h.01M153.0 80.2h.01M152.9 82.2h.01M166.2 84.3h.01M154.3 86.3h.01M163.4 85.8h.01M159.6 74.1h.01M156.9 87.5h.01M163.2 83.8h.01M150.1 52.7h.01M157.0 61.8h.01M149.4 56.4h.01M159.3 72.1h.01M156.1 65.7h.01M155.6 86.5h.01M167.1 74.1h.01M154.1 85.9h.01M160.1 84.9h.01M166.5 80.1h.01M155.2 79.3h.01M157.7 74.2h.01M151.5 76.5h.01M156.8 75.4h.01M155.2 59.1h.01M156.9 60.2h.01M152.1 70.5h.01M148.6 42.4h.01M163.8 52.7h.01M156.0 87.0h.01M160.7 73.2h.01M156.1 87.3h.01M159.4 79.3h.01M161.2 68.2h.01M154.9 87.3h.01M152.1 72.3h.01M151.3 75.4h.01M163.1 51.9h.01M158.5 87.0h.01M157.2 78.2h.01M166.5 87.1h.01M156.7 85.6h.01M156.3 86.4h.01M155.0 66.2h.01M151.6 86.9h.01M161.0 87.4h.01M156.4 77.0h.01M165.8 54.5h.01M152.3 75.4h.01M154.1 71.7h.01M151.5 74.4h.01M161.2 43.6h.01M165.1 86.0h.01M156.2 79.6h.01M161.9 72.1h.01M161.1 85.7h.01M163.8 86.6h.01M160.9 43.6h.01M156.0 83.2h.01M158.4 85.9h.01M149.3 77.0h.01M158.2 77.6h.01M151.5 53.7h.01M162.9 82.2h.01M158.1 71.6h.01M160.1 76.9h.01M160.8 79.8h.01M158.3 87.7h.01M150.2 65.7h.01M152.3 69.8h.01M159.3 82.5h.01M154.3 62.4h.01M165.4 87.4h.01M160.1 66.0h.01M159.3 79.8h.01M156.5 78.3h.01M156.8 75.6h.01M158.6 71.5h.01M161.0 79.4h.01M158.2 68.3h.01M154.4 84.7h.01M159.8 87.9h.01M154.9 75.5h.01M153.1 85.2h.01M163.2 83.2h.01M164.3 81.5h.01M165.3 53.3h.01M157.1 76.2h.01M160.8 81.1h.01M162.6 44.7h.01M157.9 77.3h.01M158.6 84.1h.01M162.0 66.8h.01M155.2 55.1h.01M157.5 73.0h.01M154.0 80.5h.01M165.7 58.5h.01M165.7 87.9h.01M164.2 48.3h.01M158.6 83.4h.01M154.4 84.7h.01M158.4 76.7h.01M162.9 70.3h.01M160.6 80.6h.01M157.5 75.3h.01M153.2 80.9h.01M155.3 57.2h.01M158.0 81.8h.01M165.6 49.7h.01M157.9 83.6h.01M152.3 70.2h.01M164.4 61.4h.01M162.2 87.3h.01M151.3 68.3h.01M164.7 82.2h.01M162.3 83.8h.01M157.9 52.9h.01M156.2 52.7h.01M164.4 60.4h.01M153.3 75.4h.01M152.0 78.9h.01M154.8 78.4h.01M159.7 81.3h.01M155.9 73.3h.01M159.1 84.0h.01M158.8 82.1h.01M154.6 79.5h.01M161.5 81.6h.01M159.4 79.6h.01M153.3 78.3h.01M153.0 64.1h.01M154.3 80.7h.01M164.9 75.4h.01M157.0 80.4h.01M158.5 82.8h.01M158.7 72.4h.01M154.8 81.0h.01M164.3 78.8h.01M158.1 83.1h.01M155.8 86.7h.01M157.5 84.6h.01M156.6 86.7h.01M161.9 80.2h.01M158.3 80.7h.01M160.9 77.2h.01M159.3 61.1h.01M163.1 73.4h.01M160.1 83.8h.01M153.0 84.8h.01M158.5 77.6h.01M156.6 81.3h.01M155.8 81.5h.01M156.5 66.3h.01M158.3 83.3h.01M150.7 77.3h.01M152.8 80.9h.01M150.9 60.8h.01M157.5 48.6h.01M154.4 45.7h.01M158.9 41.2h.01M160.7 85.2h.01M155.3 66.7h.01M156.7 81.5h.01M162.2 74.8h.01M160.2 71.7h.01M158.5 48.4h.01M162.5 42.1h.01M164.3 87.4h.01M159.8 66.9h.01M163.0 88.0h.01M165.5 85.9h.01M154.6 70.3h.01M156.5 78.0h.01M158.6 72.8h.01M155.3 78.3h.01M152.4 84.1h.01M160.2 83.5h.01M157.3 79.8h.01M160.4 87.9h.01M159.2 86.2h.01M156.4 84.2h.01M158.9 62.1h.01M162.0 83.2h.01M167.5 84.5h.01M155.2 67.7h.01M153.2 76.2h.01M153.8 77.2h.01M154.7 65.7h.01M167.3 75.8h.01M152.5 77.5h.01M155.4 78.5h.01M164.2 80.3h.01M154.3 56.2h.01M161.1 76.8h.01M154.4 60.2h.01M153.2 48.3h.01M151.3 79.9h.01M167.1 76.5h.01M165.6 84.4h.01M159.9 87.5h.01M153.6 85.9h.01M160.6 73.0h.01M156.9 69.1h.01M158.2 83.8h.01M152.1 75.3h.01M160.4 85.6h.01M153.2 68.8h.01M148.7 46.6h.01M154.0 83.1h.01M164.7 86.7h.01M156.2 77.2h.01M159.0 62.6h.01M160.9 85.2h.01M156.4 84.2h.01M150.9 47.6h.01M167.2 66.9h.01M150.9 81.0h.01M165.9 85.4h.01M160.9 84.9h.01M158.4 60.7h.01M158.7 82.3h.01" stroke="#aaa" stroke-width="0.72" stroke-linecap="round" opacity="0.75"/>
<path d="M194.2 78.1h.01M187.2 74.3h.01M180.4 84.9h.01M181.4 83.6h.01M179.6 80.5h.01M186.3 76.2h.01M185.3 78.0h.01M177.6 75.6h.01M183.2 86.7h.01M183.3 72.8h.01M180.3 79.7h.01M190.7 69.6h.01M187.2 75.8h.01M182.0 73.6h.01M183.1 73.9h.01M187.0 66.0h.01M190.4 76.6h.01M187.3 82.4h.01M187.4 66.0h.01M184.3 79.1h.01M180.1 73.9h.01M186.5 77.9h.01M181.6 77.4h.01M181.1 76.0h.01M183.7 82.7h.01M174.9 81.4h.01M193.1 72.5h.01M184.9 80.7h.01M178.3 74.7h.01M174.6 75.9h.01M185.4 80.4h.01M181.6 75.1h.01M186.3 78.6h.01M185.5 66.4h.01M180.9 66.2h.01M185.4 71.8h.01M180.3 87.1h.01M191.5 74.4h.01M185.6 76.8h.01M180.7 79.0h.01M194.8 65.3h.01M180.3 80.3h.01M189.0 77.8h.01M178.5 80.0h.01M182.5 71.8h.01M184.4 74.3h.01M189.2 75.7h.01M179.6 80.4h.01M182.0 75.1h.01M181.3 84.2h.01M181.7 69.9h.01M179.6 84.0h.01M196.1 63.5h.01M182.0 76.7h.01M176.1 84.4h.01M183.7 78.6h.01M196.6 67.2h.01M188.5 78.2h.01M180.4 76.4h.01M192.8 74.7h.01M184.8 70.9h.01M189.0 76.3h.01M196.4 76.1h.01M188.5 75.3h.01M184.4 74.0h.01M185.7 77.1h.01M187.7 80.0h.01M185.8 73.1h.01M188.6 81.8h.01M179.3 82.3h.01M187.1 77.6h.01M186.8 74.6h.01M183.4 85.9h.01M193.8 63.3h.01M180.2 76.9h.01M175.0 84.8h.01M183.7 74.5h.01M189.1 85.9h.01M192.3 77.3h.01M181.7 81.9h.01M183.8 83.0h.01M187.3 74.6h.01M187.1 71.3h.01M188.5 81.6h.01M182.0 81.2h.01M174.6 88.0h.01M188.9 68.5h.01M193.8 71.0h.01M174.3 76.6h.01M188.9 72.3h.01M190.2 65.0h.01M183.4 82.3h.01M180.2 83.0h.01M182.0 80.1h.01M185.8 87.1h.01M177.0 85.6h.01M191.4 66.3h.01M184.5 88.4h.01M189.9 58.0h.01M182.7 69.3h.01M185.7 72.2h.01M180.8 74.9h.01M185.7 73.5h.01M178.9 79.3h.01M186.3 71.1h.01M190.3 64.4h.01M186.3 73.5h.01M192.9 67.8h.01M180.3 72.7h.01M195.2 72.6h.01M177.9 79.4h.01M178.6 88.3h.01M186.4 65.1h.01M185.2 80.8h.01M184.0 79.4h.01M183.4 78.5h.01M185.2 72.6h.01M186.0 76.5h.01M183.8 73.7h.01M178.3 82.1h.01M188.7 61.7h.01M181.0 85.9h.01M189.2 69.9h.01M191.6 66.9h.01M181.5 77.6h.01M174.7 78.1h.01M177.4 80.8h.01M182.0 75.3h.01M180.4 83.2h.01M192.6 69.1h.01M193.1 79.0h.01M191.6 73.4h.01M175.6 86.1h.01M181.7 79.5h.01M173.4 82.7h.01M185.3 71.4h.01M185.7 84.3h.01M185.3 72.7h.01M197.5 57.1h.01M178.8 82.6h.01M180.7 67.6h.01M185.5 80.2h.01M179.5 87.4h.01M186.8 81.1h.01M175.4 82.8h.01M193.0 81.1h.01M191.4 72.0h.01M185.0 73.1h.01M190.2 69.3h.01M184.7 66.1h.01M184.3 77.9h.01M195.7 61.5h.01M181.0 78.0h.01M176.9 74.9h.01M177.0 85.0h.01M183.7 81.4h.01M177.9 84.1h.01M181.5 79.1h.01M189.3 73.6h.01M182.0 69.9h.01M184.4 80.7h.01M180.4 79.1h.01M174.0 77.0h.01M186.3 82.1h.01M182.2 69.7h.01M181.8 70.5h.01M182.4 87.9h.01M185.7 75.1h.01M189.9 71.1h.01M185.9 76.8h.01M186.5 67.8h.01M188.0 78.8h.01M178.9 88.0h.01M184.1 80.4h.01M187.2 79.4h.01M180.4 76.5h.01M186.1 78.7h.01M187.3 76.5h.01M181.2 84.5h.01M186.7 80.6h.01M180.2 80.2h.01M181.3 77.2h.01M185.1 78.0h.01M179.4 67.1h.01M179.5 82.8h.01M179.2 82.4h.01M181.9 73.6h.01M190.7 81.0h.01M183.4 77.1h.01M189.5 66.5h.01M179.0 86.2h.01M189.2 71.0h.01M179.6 81.8h.01M175.9 79.9h.01M182.7 65.3h.01M187.4 78.7h.01M190.1 65.5h.01M176.6 77.8h.01M178.4 79.2h.01M185.2 78.6h.01M192.3 65.8h.01M189.1 74.4h.01M177.3 82.3h.01M179.8 85.0h.01M191.5 68.8h.01M178.8 81.1h.01M178.0 85.7h.01M185.0 72.4h.01M180.1 83.4h.01M179.5 79.0h.01M188.7 80.5h.01M187.8 74.9h.01M193.8 73.9h.01M186.5 78.3h.01M188.2 75.6h.01M183.0 69.4h.01M195.9 62.3h.01M195.2 75.8h.01M180.5 80.7h.01M183.9 66.8h.01M182.1 79.8h.01M190.8 66.2h.01M185.9 76.1h.01M184.9 77.2h.01M181.9 71.3h.01M186.6 77.2h.01M187.3 81.2h.01M176.8 69.7h.01M178.7 82.6h.01M183.9 80.8h.01M183.0 74.6h.01M185.4 78.7h.01M178.4 87.6h.01M190.6 74.8h.01M183.4 76.2h.01M174.5 86.8h.01M178.3 78.2h.01M189.8 68.3h.01M181.0 83.5h.01M194.8 66.2h.01M190.4 69.3h.01M186.3 78.0h.01M177.4 86.8h.01M194.4 70.3h.01M185.6 69.9h.01M194.4 70.4h.01M176.6 86.0h.01M175.5 79.1h.01M196.8 65.1h.01M180.2 76.5h.01M180.7 82.1h.01M192.5 66.1h.01M186.6 65.9h.01M192.8 70.6h.01M179.9 87.7h.01M183.4 84.5h.01M190.2 81.4h.01M179.4 80.4h.01M186.1 74.6h.01M192.8 67.3h.01M189.8 80.2h.01M172.7 79.6h.01M178.8 77.7h.01M186.3 74.6h.01M184.5 74.3h.01M183.5 79.8h.01M188.3 70.0h.01M183.3 73.5h.01M183.0 70.2h.01M189.5 76.8h.01M183.3 73.9h.01M181.4 75.3h.01M177.2 84.6h.01M187.5 66.5h.01M172.9 87.3h.01M181.1 79.4h.01M184.0 74.1h.01M183.2 76.0h.01M191.2 71.7h.01M183.8 74.4h.01" stroke="#b0b0b0" stroke-width="0.72" stroke-linecap="round" opacity="0.75"/>
<ellipse cx="156.6" cy="81.5" rx="4.3" ry="4.5" fill="#a8a8a8" filter="url(#bl15)"/>
<ellipse cx="156.6" cy="85" rx="3.9" ry="2.5" fill="#505050" filter="url(#bl11)"/>
<path d="M154.6 82.3h.01M160.2 84.8h.01M161.9 86.8h.01M157.3 83.8h.01M153.1 84.8h.01M155.6 80.1h.01M157.3 85.5h.01M157.2 83.0h.01M158.1 87.0h.01M155.6 85.5h.01M159.9 82.9h.01M157.1 82.3h.01M158.5 83.2h.01M160.3 82.2h.01M162.0 83.4h.01M153.9 81.9h.01M158.7 82.0h.01M162.4 87.5h.01M158.3 80.5h.01M156.5 82.3h.01M150.8 85.3h.01M163.6 82.8h.01M159.2 87.5h.01M153.5 83.3h.01M157.5 85.4h.01M152.9 84.8h.01M156.3 86.7h.01M151.5 82.7h.01M155.0 83.4h.01M158.9 82.6h.01M165.4 82.4h.01M159.3 86.9h.01M159.7 83.7h.01M153.9 83.5h.01M158.7 84.5h.01M158.5 85.7h.01M153.8 81.8h.01M161.2 82.9h.01M153.9 81.8h.01M159.7 81.3h.01M153.8 86.9h.01M157.0 84.3h.01M154.5 83.6h.01M155.0 84.1h.01M159.1 80.9h.01M153.7 78.8h.01M161.4 84.0h.01M156.6 84.0h.01M159.8 85.0h.01M159.3 83.8h.01M156.2 84.1h.01M150.6 87.0h.01M151.6 81.6h.01M158.7 84.3h.01M162.6 87.8h.01M153.8 84.0h.01M159.8 83.6h.01M156.2 83.3h.01M161.0 77.8h.01M160.7 87.0h.01M156.4 85.7h.01M153.5 87.1h.01M166.4 81.8h.01M161.1 84.1h.01M155.5 82.9h.01M156.0 80.9h.01M156.5 85.6h.01M157.6 85.4h.01M151.7 81.7h.01M158.6 86.8h.01M152.9 82.7h.01M153.2 85.9h.01M157.7 84.3h.01M154.5 85.1h.01M156.7 82.3h.01M157.7 82.5h.01M159.6 85.8h.01M154.4 85.7h.01M156.8 82.4h.01M153.7 79.9h.01M153.0 85.1h.01M160.5 82.6h.01M157.1 85.1h.01M159.1 85.4h.01M160.5 86.2h.01M154.2 85.2h.01M149.1 83.7h.01M156.7 85.7h.01M155.6 86.4h.01M160.8 82.0h.01M154.9 84.9h.01M158.2 84.6h.01M159.3 81.1h.01M159.1 87.2h.01M160.2 85.3h.01M155.8 85.2h.01M156.4 80.1h.01M154.7 84.1h.01M154.9 81.8h.01M155.9 83.2h.01M156.8 84.1h.01M157.2 86.8h.01M157.0 85.3h.01M152.7 76.5h.01M155.3 86.0h.01M155.5 82.6h.01M152.6 86.5h.01M154.9 84.8h.01M160.2 85.6h.01M163.8 83.9h.01M159.7 86.0h.01M154.5 84.3h.01M154.8 81.5h.01M157.6 82.2h.01M162.0 82.3h.01M154.9 84.4h.01M154.9 84.3h.01M154.7 80.5h.01M148.9 80.8h.01M161.5 85.4h.01M157.1 83.0h.01M156.1 85.0h.01M152.2 82.1h.01M153.8 87.5h.01M153.2 87.2h.01M156.3 84.3h.01M160.9 86.5h.01M159.6 81.4h.01M156.3 82.9h.01M153.1 86.8h.01M157.5 84.2h.01M159.4 84.1h.01M161.3 81.7h.01M159.4 81.6h.01M161.1 83.5h.01M160.5 83.1h.01M157.9 87.2h.01M153.7 84.5h.01M153.9 86.4h.01M154.7 83.2h.01M156.0 87.2h.01M153.3 84.1h.01M155.5 82.8h.01M154.1 83.8h.01M157.2 80.2h.01M157.3 81.1h.01M153.5 84.0h.01M155.8 86.8h.01M155.1 79.6h.01M151.4 84.7h.01M157.4 87.0h.01M154.9 85.9h.01M153.2 87.6h.01M156.4 82.4h.01M153.9 81.0h.01M153.4 81.2h.01M156.4 85.1h.01M156.1 84.7h.01M160.4 83.4h.01M152.6 78.3h.01M157.4 82.4h.01M155.8 85.3h.01M158.1 80.1h.01M153.5 84.4h.01M156.1 87.2h.01M155.0 78.8h.01M160.3 79.9h.01M153.5 85.2h.01M157.4 85.6h.01M158.3 82.3h.01M160.6 79.8h.01M154.7 85.0h.01M157.0 81.7h.01M153.6 85.2h.01M154.6 83.1h.01M159.8 84.5h.01M156.3 84.5h.01M152.8 87.4h.01M154.2 87.6h.01M155.1 83.0h.01M161.4 84.7h.01M154.6 82.8h.01M158.6 83.2h.01M153.0 82.5h.01M156.2 84.8h.01M154.5 87.5h.01M153.5 82.3h.01M158.2 85.5h.01M155.4 86.7h.01M156.8 87.7h.01M156.0 84.7h.01M158.3 79.7h.01M159.5 85.1h.01M157.2 87.8h.01M157.7 79.3h.01M153.6 83.4h.01M157.1 83.0h.01M159.6 85.8h.01M156.6 84.4h.01M157.8 84.8h.01M154.3 86.2h.01M154.0 84.1h.01M155.5 81.2h.01M158.5 84.0h.01M152.9 84.0h.01M152.2 87.9h.01M154.8 86.0h.01M153.5 82.0h.01M156.3 85.3h.01M159.6 83.5h.01M160.1 86.7h.01M153.8 83.7h.01M154.8 86.5h.01M159.5 83.5h.01M155.0 85.1h.01M154.1 80.9h.01M153.5 85.1h.01M150.8 85.5h.01M152.9 87.2h.01M158.8 84.5h.01M161.3 83.2h.01M154.9 81.5h.01M154.5 84.5h.01M158.7 87.5h.01M155.7 82.3h.01M155.5 83.1h.01M155.1 83.2h.01M153.8 84.1h.01M155.0 83.8h.01M152.2 84.6h.01M158.4 85.9h.01M154.9 81.3h.01M152.5 81.2h.01M154.6 83.4h.01M151.0 85.9h.01M151.7 82.4h.01M154.3 86.3h.01M162.4 83.3h.01M155.7 83.2h.01M156.0 83.8h.01M164.4 81.4h.01M156.3 82.2h.01M157.7 82.9h.01M158.4 81.4h.01M163.3 84.7h.01M151.0 86.0h.01M155.1 81.2h.01M158.0 82.9h.01M158.9 82.8h.01M159.5 84.6h.01" stroke="#555" stroke-width="0.90" stroke-linecap="round" opacity="0.35"/>
<circle cx="156.1" cy="90.8" r="1.1" fill="#000"/>
<rect x="147.60" y="39.30" width="24.00" height="48.20" stroke="#2a2a2a" stroke-width="1.3" fill="none"/>
<text x="130.50" y="58.30" font-size="7.2" font-weight="bold" text-anchor="middle" fill="#000" transform="rotate(-90 130.5 58.3)" dominant-baseline="middle">SSC</text>
<text x="173.70" y="107.50" font-size="7.5" font-weight="bold" text-anchor="middle" fill="#000" >Ly6G</text>
<polyline points="147.6,83.1 127.2,83.1 127.2,120" fill="none" stroke="#000" stroke-width="1.3"/>
<polygon points="127.20,123.60 124.76,119.40 127.20,120.03 129.64,119.40" fill="#000"/>
<text x="73.8" y="135.5" font-size="7.6" font-weight="bold">MHC II<tspan font-size="5.2" dy="-2.7">lo</tspan><tspan dy="2.7">, Ly6G</tspan><tspan font-size="5.2" dy="-2.7">-</tspan><tspan dy="2.7"> - Gated</tspan></text>
<line x1="17.90" y1="139.50" x2="225.00" y2="139.50" stroke="#000" stroke-width="1.2" />
<rect x="21.90" y="151.50" width="57.60" height="56.90" stroke="#9a9a9a" stroke-width="0.8" fill="none"/>
<line x1="20.60" y1="156.60" x2="21.90" y2="156.60" stroke="#444" stroke-width="0.6" />
<text x="20.10" y="157.60" font-size="2.9" font-weight="normal" text-anchor="end" fill="#555" >10⁵</text>
<line x1="20.60" y1="170.60" x2="21.90" y2="170.60" stroke="#444" stroke-width="0.6" />
<text x="20.10" y="171.60" font-size="2.9" font-weight="normal" text-anchor="end" fill="#555" >10⁴</text>
<line x1="20.60" y1="186.60" x2="21.90" y2="186.60" stroke="#444" stroke-width="0.6" />
<text x="20.10" y="187.60" font-size="2.9" font-weight="normal" text-anchor="end" fill="#555" >10³</text>
<line x1="20.60" y1="206.10" x2="21.90" y2="206.10" stroke="#444" stroke-width="0.6" />
<text x="20.10" y="207.10" font-size="2.9" font-weight="normal" text-anchor="end" fill="#555" >-10³</text>
<line x1="21.10" y1="159.40" x2="21.90" y2="159.40" stroke="#777" stroke-width="0.35" />
<line x1="21.10" y1="162.20" x2="21.90" y2="162.20" stroke="#777" stroke-width="0.35" />
<line x1="21.10" y1="165.00" x2="21.90" y2="165.00" stroke="#777" stroke-width="0.35" />
<line x1="21.10" y1="167.80" x2="21.90" y2="167.80" stroke="#777" stroke-width="0.35" />
<line x1="21.10" y1="173.80" x2="21.90" y2="173.80" stroke="#777" stroke-width="0.35" />
<line x1="21.10" y1="177.00" x2="21.90" y2="177.00" stroke="#777" stroke-width="0.35" />
<line x1="21.10" y1="180.20" x2="21.90" y2="180.20" stroke="#777" stroke-width="0.35" />
<line x1="21.10" y1="183.40" x2="21.90" y2="183.40" stroke="#777" stroke-width="0.35" />
<line x1="21.10" y1="190.50" x2="21.90" y2="190.50" stroke="#777" stroke-width="0.35" />
<line x1="21.10" y1="194.40" x2="21.90" y2="194.40" stroke="#777" stroke-width="0.35" />
<line x1="21.10" y1="198.30" x2="21.90" y2="198.30" stroke="#777" stroke-width="0.35" />
<line x1="21.10" y1="202.20" x2="21.90" y2="202.20" stroke="#777" stroke-width="0.35" />
<text x="12.60" y="179.95" font-size="2.6" font-weight="normal" text-anchor="middle" fill="#666" transform="rotate(-90 12.4 179.9)">Comp-PerCP-Cy5-5-A :: Ly6C</text>
<line x1="26.30" y1="208.40" x2="26.30" y2="209.70" stroke="#444" stroke-width="0.6" />
<text x="26.30" y="215.90" font-size="2.9" font-weight="normal" text-anchor="middle" fill="#555" >-10³</text>
<line x1="34.70" y1="208.40" x2="34.70" y2="209.70" stroke="#444" stroke-width="0.6" />
<text x="34.70" y="215.90" font-size="2.9" font-weight="normal" text-anchor="middle" fill="#555" >0</text>
<line x1="45.80" y1="208.40" x2="45.80" y2="209.70" stroke="#444" stroke-width="0.6" />
<text x="45.80" y="215.90" font-size="2.9" font-weight="normal" text-anchor="middle" fill="#555" >10³</text>
<line x1="61.60" y1="208.40" x2="61.60" y2="209.70" stroke="#444" stroke-width="0.6" />
<text x="61.60" y="215.90" font-size="2.9" font-weight="normal" text-anchor="middle" fill="#555" >10⁴</text>
<line x1="74.70" y1="208.40" x2="74.70" y2="209.70" stroke="#444" stroke-width="0.6" />
<text x="74.70" y="215.90" font-size="2.9" font-weight="normal" text-anchor="middle" fill="#555" >10⁵</text>
<line x1="28.40" y1="208.40" x2="28.40" y2="209.20" stroke="#777" stroke-width="0.35" />
<line x1="30.50" y1="208.40" x2="30.50" y2="209.20" stroke="#777" stroke-width="0.35" />
<line x1="32.60" y1="208.40" x2="32.60" y2="209.20" stroke="#777" stroke-width="0.35" />
<line x1="37.48" y1="208.40" x2="37.48" y2="209.20" stroke="#777" stroke-width="0.35" />
<line x1="40.25" y1="208.40" x2="40.25" y2="209.20" stroke="#777" stroke-width="0.35" />
<line x1="43.02" y1="208.40" x2="43.02" y2="209.20" stroke="#777" stroke-width="0.35" />
<line x1="49.75" y1="208.40" x2="49.75" y2="209.20" stroke="#777" stroke-width="0.35" />
<line x1="53.70" y1="208.40" x2="53.70" y2="209.20" stroke="#777" stroke-width="0.35" />
<line x1="57.65" y1="208.40" x2="57.65" y2="209.20" stroke="#777" stroke-width="0.35" />
<line x1="64.88" y1="208.40" x2="64.88" y2="209.20" stroke="#777" stroke-width="0.35" />
<line x1="68.15" y1="208.40" x2="68.15" y2="209.20" stroke="#777" stroke-width="0.35" />
<line x1="71.42" y1="208.40" x2="71.42" y2="209.20" stroke="#777" stroke-width="0.35" />
<text x="51.70" y="220.00" font-size="2.6" font-weight="normal" text-anchor="middle" fill="#666" >Comp-APC-A :: CD11b</text>
<text x="52.20" y="149.80" font-size="7.3" font-weight="bold" text-anchor="middle" fill="#000" >Normal</text>
<path d="M35.80,159.80 C38.14,168.50 37.74,177.20 37.74,184.66 C37.74,192.80 36.16,201.95 34.60,205.00 C33.04,201.95 32.54,192.80 32.54,184.66 C32.54,177.20 33.46,168.50 35.80,159.80 Z" fill="#444" filter="url(#b08)"/>
<path d="M36.4 162.8h.01M36.1 165.3h.01M35.4 167.0h.01M35.2 201.4h.01M36.3 200.7h.01M31.8 179.7h.01M34.3 195.8h.01M37.5 196.4h.01M35.0 192.9h.01M35.0 201.6h.01M32.6 184.8h.01M34.5 166.3h.01M32.4 191.4h.01M35.9 180.4h.01M36.4 168.7h.01M34.6 193.5h.01M34.8 197.4h.01M37.7 177.7h.01M36.1 169.9h.01M39.0 176.4h.01M34.8 182.8h.01M34.9 193.9h.01M35.8 193.5h.01M34.8 169.3h.01M35.1 175.5h.01M33.1 178.2h.01M37.3 183.5h.01M38.2 181.1h.01M35.4 182.7h.01M34.0 192.5h.01M35.6 175.8h.01M34.9 172.3h.01M33.5 188.5h.01M35.3 186.0h.01M35.5 169.6h.01M34.9 195.9h.01M36.3 171.3h.01M33.3 187.0h.01M37.0 188.1h.01M37.1 173.0h.01M35.1 198.8h.01M33.1 196.6h.01M33.5 179.5h.01M33.3 168.3h.01M35.0 164.4h.01M36.2 166.5h.01M36.3 169.8h.01M35.0 166.5h.01M35.0 168.1h.01M34.7 181.3h.01M33.3 184.1h.01M35.3 197.6h.01M35.9 160.6h.01M35.7 161.5h.01M33.4 194.5h.01M34.9 169.6h.01M34.1 195.1h.01M37.3 170.1h.01M34.2 185.7h.01M34.0 181.5h.01M35.2 162.7h.01M34.5 166.7h.01M35.1 184.7h.01M34.3 197.7h.01M35.4 199.1h.01M35.8 163.6h.01M36.7 171.2h.01M36.2 171.1h.01M34.2 173.4h.01M35.1 195.4h.01M35.7 192.5h.01M35.8 160.2h.01M37.1 174.7h.01M36.1 195.1h.01M34.6 204.8h.01M35.2 194.0h.01M36.7 178.4h.01M34.8 173.9h.01M36.3 163.1h.01M34.7 179.7h.01M35.6 179.6h.01M32.2 181.3h.01M33.8 167.9h.01M37.1 178.2h.01M33.4 189.7h.01M34.4 185.8h.01M33.2 170.9h.01M35.3 163.4h.01M38.4 176.5h.01M35.5 160.4h.01M33.0 188.1h.01M32.9 181.0h.01M35.2 165.7h.01M37.1 192.7h.01M34.6 169.0h.01M33.2 189.5h.01M35.6 160.8h.01M35.6 186.8h.01M36.9 175.0h.01M36.9 172.8h.01M34.3 195.5h.01M36.2 196.3h.01M35.6 165.0h.01M34.5 202.1h.01M35.7 160.9h.01M34.6 167.9h.01M33.7 177.7h.01M35.6 165.3h.01M33.8 183.4h.01M39.1 177.1h.01M35.9 179.5h.01M39.1 174.3h.01M35.8 189.0h.01M33.7 193.9h.01M35.8 172.4h.01M35.6 180.1h.01M35.0 199.3h.01M36.3 194.3h.01M36.4 172.3h.01M36.9 179.0h.01M35.0 202.2h.01M34.4 185.2h.01M37.0 178.6h.01M34.9 201.2h.01M33.6 173.5h.01M35.3 162.7h.01M35.1 201.6h.01M35.7 192.2h.01M35.7 160.7h.01M35.8 181.2h.01M35.9 160.5h.01M36.0 163.5h.01M36.0 163.9h.01M36.6 166.0h.01M34.1 196.9h.01M36.0 170.7h.01M36.5 197.7h.01M36.0 164.2h.01M34.1 202.5h.01M35.5 198.8h.01M36.6 164.3h.01M36.1 186.4h.01M34.6 192.4h.01M36.8 168.2h.01M34.9 179.6h.01M37.2 173.3h.01M35.1 172.2h.01M34.4 196.0h.01M35.3 182.2h.01M36.0 182.8h.01M34.9 182.6h.01M33.8 178.4h.01M34.4 200.1h.01M37.0 200.1h.01M34.7 204.6h.01M34.5 196.6h.01M36.7 187.5h.01M40.3 189.1h.01M34.4 196.4h.01M34.6 198.8h.01M35.5 167.7h.01M37.0 168.6h.01M35.1 180.7h.01M34.3 189.7h.01M34.7 164.5h.01M35.3 190.9h.01M36.1 161.7h.01M39.0 177.5h.01M33.6 179.0h.01M36.4 193.3h.01M33.3 189.2h.01M36.4 183.1h.01M38.1 168.3h.01M33.8 194.9h.01M34.4 204.7h.01M36.0 170.7h.01M34.2 193.4h.01M32.3 197.5h.01M34.6 199.5h.01M38.1 181.3h.01M33.7 173.9h.01M36.2 197.9h.01M34.5 198.0h.01M35.1 166.8h.01M35.5 185.5h.01M36.3 164.4h.01M35.5 166.8h.01M34.1 198.1h.01M36.1 174.7h.01M34.6 171.9h.01M37.0 177.6h.01M35.5 177.0h.01M35.9 160.4h.01M35.8 159.8h.01M34.7 203.2h.01M36.0 160.9h.01M35.5 164.3h.01M33.1 182.6h.01M34.8 170.9h.01M39.2 176.6h.01M34.7 204.5h.01M34.4 198.1h.01M35.7 160.8h.01M32.3 191.2h.01M35.5 184.7h.01M34.3 184.2h.01M34.8 171.8h.01M35.5 191.8h.01M35.5 185.7h.01M32.8 186.9h.01M35.0 201.5h.01M33.7 174.5h.01M34.5 201.7h.01M35.9 174.9h.01M36.9 191.7h.01M34.1 189.7h.01M34.8 202.2h.01M33.5 180.7h.01M34.6 194.1h.01M35.8 187.8h.01M34.8 196.4h.01M36.0 200.1h.01M36.3 165.6h.01M36.7 174.9h.01M35.2 202.7h.01M34.8 195.6h.01M37.0 188.4h.01M37.9 167.7h.01M35.6 163.2h.01M35.3 181.5h.01M36.9 178.4h.01M34.5 198.2h.01M34.1 195.0h.01M34.9 173.6h.01M33.3 182.0h.01M36.6 182.6h.01M31.7 174.4h.01M33.3 169.0h.01M36.0 175.0h.01M35.7 162.3h.01M36.6 178.9h.01M34.2 203.5h.01M33.6 197.6h.01M35.7 160.4h.01M35.2 177.1h.01M36.4 162.8h.01M33.8 184.3h.01M36.6 178.1h.01M35.5 164.4h.01M32.2 186.8h.01M34.4 165.0h.01M34.4 204.4h.01M37.5 194.1h.01M35.9 189.9h.01M37.6 172.3h.01M34.0 200.3h.01M34.4 171.0h.01M34.8 173.2h.01M34.0 194.2h.01M34.2 184.3h.01M33.4 201.8h.01M33.6 185.4h.01M34.8 204.6h.01M35.5 184.8h.01M36.9 192.7h.01M34.8 181.4h.01M32.6 188.5h.01M34.5 202.6h.01M35.6 160.4h.01M36.6 162.5h.01M36.6 195.5h.01M35.2 196.0h.01M34.9 170.6h.01M35.7 191.7h.01M34.0 183.7h.01M34.2 186.3h.01M34.9 202.9h.01M32.6 171.0h.01M34.0 183.1h.01M35.6 196.1h.01M34.0 167.7h.01M34.3 202.1h.01M35.7 160.6h.01M35.3 202.1h.01M36.1 167.2h.01M33.7 184.6h.01M35.2 201.7h.01M35.9 166.8h.01M35.2 165.8h.01M37.5 186.0h.01M35.9 165.3h.01M34.7 166.3h.01M35.2 196.9h.01M34.3 202.3h.01M34.8 196.4h.01M34.8 199.0h.01M36.4 197.1h.01M36.1 194.7h.01M37.3 188.4h.01M31.8 174.6h.01M35.6 197.5h.01M34.3 190.7h.01M36.1 190.7h.01M34.1 172.3h.01M34.9 171.2h.01M34.6 198.7h.01M34.8 200.0h.01M37.4 190.2h.01M35.9 165.3h.01M33.1 173.6h.01M35.5 164.2h.01M38.0 180.9h.01M35.1 196.7h.01M36.0 175.6h.01M34.9 199.6h.01M35.3 193.8h.01M35.6 163.9h.01M35.1 171.0h.01M36.1 189.8h.01M34.1 180.1h.01" stroke="#333" stroke-width="0.90" stroke-linecap="round" opacity="0.5"/>
<path d="M44.9 165.2h.01M51.3 180.0h.01M65.4 179.9h.01M60.0 177.1h.01M47.8 166.7h.01M52.8 163.3h.01M66.2 161.1h.01M53.8 163.3h.01M69.9 175.1h.01M58.4 166.5h.01M71.6 185.0h.01M57.5 172.7h.01M69.9 162.5h.01M51.8 157.4h.01M59.1 179.4h.01M48.7 168.3h.01M73.7 169.9h.01M55.5 181.7h.01" stroke="#bbb" stroke-width="0.72" stroke-linecap="round" opacity="0.75"/>
<rect x="43.70" y="152.00" width="30.70" height="36.00" stroke="#888" stroke-width="0.9" fill="none"/>
<text x="61.00" y="199.30" font-size="7" font-weight="bold" text-anchor="middle" fill="#000" >0.17</text>
<circle cx="21.6" cy="196.5" r="1" fill="#000"/><circle cx="34.5" cy="209.2" r="1" fill="#000"/>
<rect x="95.40" y="151.50" width="57.80" height="56.70" stroke="#9a9a9a" stroke-width="0.8" fill="none"/>
<line x1="94.10" y1="156.60" x2="95.40" y2="156.60" stroke="#444" stroke-width="0.6" />
<text x="93.60" y="157.60" font-size="2.9" font-weight="normal" text-anchor="end" fill="#555" >10⁵</text>
<line x1="94.10" y1="170.60" x2="95.40" y2="170.60" stroke="#444" stroke-width="0.6" />
<text x="93.60" y="171.60" font-size="2.9" font-weight="normal" text-anchor="end" fill="#555" >10⁴</text>
<line x1="94.10" y1="186.60" x2="95.40" y2="186.60" stroke="#444" stroke-width="0.6" />
<text x="93.60" y="187.60" font-size="2.9" font-weight="normal" text-anchor="end" fill="#555" >10³</text>
<line x1="94.10" y1="205.90" x2="95.40" y2="205.90" stroke="#444" stroke-width="0.6" />
<text x="93.60" y="206.90" font-size="2.9" font-weight="normal" text-anchor="end" fill="#555" >-10³</text>
<line x1="94.60" y1="159.40" x2="95.40" y2="159.40" stroke="#777" stroke-width="0.35" />
<line x1="94.60" y1="162.20" x2="95.40" y2="162.20" stroke="#777" stroke-width="0.35" />
<line x1="94.60" y1="165.00" x2="95.40" y2="165.00" stroke="#777" stroke-width="0.35" />
<line x1="94.60" y1="167.80" x2="95.40" y2="167.80" stroke="#777" stroke-width="0.35" />
<line x1="94.60" y1="173.80" x2="95.40" y2="173.80" stroke="#777" stroke-width="0.35" />
<line x1="94.60" y1="177.00" x2="95.40" y2="177.00" stroke="#777" stroke-width="0.35" />
<line x1="94.60" y1="180.20" x2="95.40" y2="180.20" stroke="#777" stroke-width="0.35" />
<line x1="94.60" y1="183.40" x2="95.40" y2="183.40" stroke="#777" stroke-width="0.35" />
<line x1="94.60" y1="190.46" x2="95.40" y2="190.46" stroke="#777" stroke-width="0.35" />
<line x1="94.60" y1="194.32" x2="95.40" y2="194.32" stroke="#777" stroke-width="0.35" />
<line x1="94.60" y1="198.18" x2="95.40" y2="198.18" stroke="#777" stroke-width="0.35" />
<line x1="94.60" y1="202.04" x2="95.40" y2="202.04" stroke="#777" stroke-width="0.35" />
<text x="86.10" y="179.85" font-size="2.6" font-weight="normal" text-anchor="middle" fill="#666" transform="rotate(-90 85.9 179.8)">Comp-PerCP-Cy5-5-A :: Ly6C</text>
<line x1="99.80" y1="208.20" x2="99.80" y2="209.50" stroke="#444" stroke-width="0.6" />
<text x="99.80" y="215.70" font-size="2.9" font-weight="normal" text-anchor="middle" fill="#555" >-10³</text>
<line x1="108.20" y1="208.20" x2="108.20" y2="209.50" stroke="#444" stroke-width="0.6" />
<text x="108.20" y="215.70" font-size="2.9" font-weight="normal" text-anchor="middle" fill="#555" >0</text>
<line x1="119.30" y1="208.20" x2="119.30" y2="209.50" stroke="#444" stroke-width="0.6" />
<text x="119.30" y="215.70" font-size="2.9" font-weight="normal" text-anchor="middle" fill="#555" >10³</text>
<line x1="135.10" y1="208.20" x2="135.10" y2="209.50" stroke="#444" stroke-width="0.6" />
<text x="135.10" y="215.70" font-size="2.9" font-weight="normal" text-anchor="middle" fill="#555" >10⁴</text>
<line x1="148.20" y1="208.20" x2="148.20" y2="209.50" stroke="#444" stroke-width="0.6" />
<text x="148.20" y="215.70" font-size="2.9" font-weight="normal" text-anchor="middle" fill="#555" >10⁵</text>
<line x1="101.90" y1="208.20" x2="101.90" y2="209.00" stroke="#777" stroke-width="0.35" />
<line x1="104.00" y1="208.20" x2="104.00" y2="209.00" stroke="#777" stroke-width="0.35" />
<line x1="106.10" y1="208.20" x2="106.10" y2="209.00" stroke="#777" stroke-width="0.35" />
<line x1="110.98" y1="208.20" x2="110.98" y2="209.00" stroke="#777" stroke-width="0.35" />
<line x1="113.75" y1="208.20" x2="113.75" y2="209.00" stroke="#777" stroke-width="0.35" />
<line x1="116.53" y1="208.20" x2="116.53" y2="209.00" stroke="#777" stroke-width="0.35" />
<line x1="123.25" y1="208.20" x2="123.25" y2="209.00" stroke="#777" stroke-width="0.35" />
<line x1="127.20" y1="208.20" x2="127.20" y2="209.00" stroke="#777" stroke-width="0.35" />
<line x1="131.15" y1="208.20" x2="131.15" y2="209.00" stroke="#777" stroke-width="0.35" />
<line x1="138.38" y1="208.20" x2="138.38" y2="209.00" stroke="#777" stroke-width="0.35" />
<line x1="141.65" y1="208.20" x2="141.65" y2="209.00" stroke="#777" stroke-width="0.35" />
<line x1="144.93" y1="208.20" x2="144.93" y2="209.00" stroke="#777" stroke-width="0.35" />
<text x="125.30" y="219.80" font-size="2.6" font-weight="normal" text-anchor="middle" fill="#666" >Comp-APC-A :: CD11b</text>
<text x="126.30" y="149.80" font-size="7.3" font-weight="bold" text-anchor="middle" fill="#000" >BSS</text>
<path d="M109.00,160.50 C112.60,168.72 112.80,176.95 112.80,184.00 C112.80,193.40 111.00,203.97 108.60,207.50 C106.20,203.97 104.80,193.40 104.80,184.00 C104.80,176.95 105.40,168.72 109.00,160.50 Z" fill="#555" filter="url(#b08)"/>
<path d="M108.2 202.4h.01M109.6 190.4h.01M111.3 195.3h.01M107.4 175.0h.01M108.1 184.7h.01M111.5 182.5h.01M110.6 203.4h.01M105.6 183.0h.01M109.4 205.8h.01M112.8 190.6h.01M105.2 201.5h.01M109.7 161.7h.01M109.3 200.3h.01M107.3 199.4h.01M108.9 170.5h.01M106.1 179.8h.01M109.8 169.7h.01M107.4 164.7h.01M108.7 206.5h.01M111.2 180.0h.01M113.4 187.6h.01M105.1 190.3h.01M109.6 177.7h.01M109.4 184.9h.01M102.1 187.9h.01M111.1 179.9h.01M107.6 177.0h.01M108.9 204.6h.01M106.3 188.3h.01M108.3 172.3h.01M106.4 175.3h.01M108.6 206.5h.01M109.0 187.0h.01M109.4 168.0h.01M109.8 176.8h.01M105.0 171.6h.01M106.5 197.2h.01M109.9 185.5h.01M109.8 162.5h.01M110.1 192.9h.01M112.7 178.4h.01M106.9 174.7h.01M107.8 163.6h.01M108.0 171.0h.01M108.8 162.6h.01M108.7 195.1h.01M108.3 189.9h.01M110.9 171.4h.01M110.2 169.2h.01M113.0 181.8h.01M106.5 194.1h.01M112.4 188.5h.01M106.4 191.2h.01M110.3 169.5h.01M108.4 206.3h.01M106.2 190.5h.01M108.6 165.2h.01M109.6 200.1h.01M108.5 161.1h.01M109.9 197.3h.01M108.2 194.3h.01M110.2 193.6h.01M108.5 174.5h.01M106.9 196.2h.01M111.7 187.4h.01M102.4 178.3h.01M109.2 206.9h.01M109.0 161.9h.01M105.5 186.1h.01M111.3 175.3h.01M109.4 170.3h.01M106.3 196.0h.01M113.0 183.5h.01M109.6 170.8h.01M110.8 182.7h.01M108.7 191.8h.01M107.3 196.4h.01M107.0 194.9h.01M109.5 191.9h.01M111.7 188.6h.01M109.3 194.8h.01M110.8 176.6h.01M107.9 165.0h.01M112.0 187.6h.01M108.8 168.6h.01M107.7 195.8h.01M109.8 167.4h.01M109.9 184.7h.01M112.5 173.2h.01M105.6 173.8h.01M107.8 195.7h.01M106.5 172.5h.01M108.7 205.1h.01M108.8 176.0h.01M109.6 175.6h.01M109.8 202.7h.01M109.2 161.6h.01M108.8 161.1h.01M108.5 202.8h.01M109.8 166.0h.01M109.9 177.8h.01M109.8 172.3h.01M106.8 187.7h.01M109.5 185.2h.01M108.4 196.9h.01M107.8 203.6h.01M106.8 197.7h.01M107.9 176.0h.01M110.3 166.8h.01M108.0 165.1h.01M108.8 204.0h.01M108.3 193.4h.01M105.3 171.7h.01M107.9 177.0h.01M108.0 183.9h.01M107.4 189.9h.01M110.4 180.5h.01M108.6 193.9h.01M108.9 162.4h.01M109.7 167.5h.01M110.8 185.3h.01M110.7 165.0h.01M109.6 189.8h.01M108.2 170.7h.01M104.3 196.5h.01M109.9 176.4h.01M111.0 179.2h.01M108.5 205.9h.01M109.1 202.4h.01M109.5 204.7h.01M110.2 166.0h.01M105.9 195.7h.01M113.7 188.7h.01M110.6 165.3h.01M108.4 197.3h.01M106.8 192.7h.01M108.8 179.8h.01M108.4 204.4h.01M109.7 178.6h.01M106.9 198.7h.01M108.4 174.7h.01M108.6 183.5h.01M109.9 164.2h.01M105.9 180.5h.01M109.6 206.3h.01M108.2 164.4h.01M108.3 193.6h.01M108.6 161.2h.01M107.5 203.9h.01M109.5 198.8h.01M113.5 173.4h.01M109.7 173.2h.01M110.3 162.4h.01M113.7 195.3h.01M111.2 170.4h.01M112.6 191.7h.01M110.5 187.9h.01M109.2 205.0h.01M109.0 160.7h.01M108.6 207.4h.01M111.1 165.4h.01M107.6 194.9h.01M108.7 162.5h.01M106.0 183.6h.01M106.4 167.3h.01M108.8 166.7h.01M107.8 201.7h.01M109.6 171.7h.01M106.9 182.1h.01M107.4 202.3h.01M101.2 184.5h.01M108.5 170.6h.01M108.9 161.3h.01M109.9 166.3h.01M114.3 180.2h.01M110.0 183.3h.01M108.0 201.8h.01M105.7 196.2h.01M108.7 174.7h.01M107.1 186.6h.01M109.0 188.5h.01M107.5 176.7h.01M110.2 199.2h.01M105.7 166.1h.01M111.2 170.4h.01M110.7 195.5h.01M109.3 191.0h.01M105.8 186.9h.01M107.8 203.8h.01M105.9 188.2h.01M108.9 183.7h.01M107.2 166.6h.01M106.5 180.5h.01M110.0 186.9h.01M106.9 177.5h.01M110.4 178.0h.01M108.7 206.2h.01M108.9 194.4h.01M105.7 179.1h.01M109.9 177.7h.01M112.8 171.7h.01M108.8 204.6h.01M107.0 173.9h.01M109.1 163.2h.01M109.1 202.5h.01M107.6 172.5h.01M109.4 193.3h.01M106.2 178.7h.01M110.0 171.5h.01M106.0 200.8h.01M106.0 165.9h.01M105.3 194.1h.01M109.4 182.1h.01M109.3 194.9h.01M109.4 163.7h.01M105.3 182.8h.01M110.1 202.4h.01M108.3 165.2h.01M107.1 188.2h.01M108.9 204.1h.01M109.8 194.8h.01M110.0 176.6h.01M107.6 187.4h.01M110.3 198.7h.01M108.7 169.0h.01M108.0 204.9h.01M108.2 205.2h.01M110.4 165.7h.01M106.3 179.8h.01M106.6 176.6h.01M109.5 162.1h.01M110.4 168.5h.01M105.4 174.9h.01M105.1 184.7h.01M107.5 172.5h.01M107.9 197.3h.01M108.8 167.8h.01M109.8 203.2h.01M109.2 168.3h.01M109.8 170.5h.01M105.8 176.1h.01M111.4 179.5h.01M105.3 182.8h.01M109.8 202.9h.01M110.5 180.5h.01M108.5 206.5h.01M107.8 185.2h.01M107.0 173.3h.01M109.9 166.9h.01M107.4 193.3h.01M107.1 182.2h.01M108.7 168.8h.01M107.7 176.3h.01M108.9 160.6h.01M108.0 193.9h.01M109.2 172.7h.01M109.9 170.4h.01M106.3 175.9h.01M108.5 172.2h.01M110.7 176.8h.01M109.3 197.7h.01M106.8 202.1h.01M109.3 191.2h.01M109.2 168.2h.01M105.2 172.6h.01M108.0 188.0h.01M109.2 180.7h.01M114.3 195.9h.01M115.1 176.5h.01M110.5 172.5h.01M110.2 200.3h.01M111.2 177.3h.01M108.5 202.3h.01M109.7 169.8h.01M111.1 198.4h.01M108.3 192.5h.01M108.8 173.8h.01M108.7 206.8h.01M108.5 162.5h.01M107.9 169.3h.01M110.5 181.0h.01M108.4 168.2h.01M107.2 190.1h.01M107.3 168.9h.01M109.3 201.6h.01M109.7 171.9h.01M105.6 184.6h.01M109.1 194.7h.01M108.3 202.5h.01M108.8 199.6h.01M108.9 161.4h.01M110.0 188.8h.01M109.7 197.2h.01M109.5 200.5h.01M111.3 192.9h.01M110.4 197.8h.01M110.9 179.7h.01M111.6 175.5h.01M109.6 166.8h.01M110.1 166.5h.01M105.9 178.6h.01M107.9 179.5h.01M110.0 198.1h.01M109.0 204.4h.01M110.7 201.1h.01M106.7 185.7h.01M107.9 197.5h.01M108.5 172.5h.01M109.6 165.1h.01M107.3 179.7h.01M112.0 185.8h.01M110.3 197.9h.01M109.8 197.9h.01M108.1 167.3h.01M108.0 196.3h.01M106.8 176.6h.01M109.7 167.7h.01M107.1 198.7h.01M107.7 176.5h.01M110.9 195.5h.01M107.5 202.0h.01M111.8 179.5h.01M108.8 201.0h.01M105.9 177.5h.01M111.7 173.4h.01M106.3 174.8h.01M109.8 164.5h.01M110.4 162.3h.01M106.6 198.6h.01M108.2 185.9h.01M107.8 179.8h.01M108.5 203.7h.01M110.0 165.3h.01M111.4 190.6h.01M107.3 198.4h.01M107.5 162.9h.01M109.0 161.0h.01M111.5 167.7h.01M109.0 185.5h.01M107.3 185.3h.01M108.6 202.8h.01M106.3 183.0h.01M112.4 173.6h.01M107.8 192.5h.01M108.6 174.8h.01M106.7 198.0h.01M111.5 177.6h.01M106.2 181.7h.01M109.8 186.9h.01M107.9 205.6h.01" stroke="#333" stroke-width="0.90" stroke-linecap="round" opacity="0.5"/>
<path d="M137.7 161.0h.01M124.6 163.3h.01M127.8 164.2h.01M121.4 174.9h.01M128.4 162.2h.01M133.9 162.5h.01M128.7 166.1h.01M132.3 165.9h.01M124.1 170.8h.01M123.9 168.7h.01M134.8 158.1h.01M120.4 168.5h.01M123.3 173.5h.01M117.4 180.6h.01M134.5 160.6h.01M127.0 165.0h.01M129.6 167.6h.01M130.0 167.8h.01M136.4 160.7h.01M129.8 164.2h.01M126.2 167.7h.01M125.7 168.5h.01M121.4 168.9h.01M122.7 164.2h.01M122.2 167.1h.01M125.2 161.3h.01M124.6 163.4h.01M121.6 170.1h.01M132.0 164.9h.01M123.4 166.7h.01M133.2 156.7h.01M132.1 157.8h.01M122.6 169.0h.01M124.8 174.1h.01M128.7 165.4h.01M131.1 164.3h.01M121.7 173.7h.01M134.1 167.6h.01M119.7 177.9h.01M123.8 171.2h.01M132.4 172.8h.01M117.3 167.8h.01M132.3 165.5h.01M124.3 156.5h.01M128.4 165.0h.01M126.0 167.9h.01M130.1 163.7h.01M121.2 168.2h.01M136.6 158.5h.01M125.6 174.6h.01M131.7 164.4h.01M130.0 163.8h.01M121.1 173.6h.01M126.7 172.9h.01M124.6 166.3h.01M127.9 165.2h.01M124.3 164.4h.01M127.4 167.5h.01M135.9 161.5h.01M138.3 158.5h.01M121.7 168.7h.01M125.0 161.6h.01M129.1 161.9h.01M129.4 172.7h.01M132.7 164.1h.01M123.2 167.5h.01M131.2 162.1h.01M128.2 169.6h.01M121.1 167.4h.01M128.4 165.7h.01" stroke="#b0b0b0" stroke-width="0.72" stroke-linecap="round" opacity="0.75"/>
<rect x="116.60" y="152.00" width="31.80" height="36.40" stroke="#888" stroke-width="0.9" fill="none"/>
<text x="136.80" y="198.60" font-size="7" font-weight="bold" text-anchor="middle" fill="#000" >1.62</text>
<circle cx="95.2" cy="196.5" r="1" fill="#000"/><circle cx="108.5" cy="208.7" r="1" fill="#000"/>
<rect x="169.20" y="151.50" width="58.00" height="56.50" stroke="#9a9a9a" stroke-width="0.8" fill="none"/>
<line x1="167.90" y1="156.60" x2="169.20" y2="156.60" stroke="#444" stroke-width="0.6" />
<text x="167.40" y="157.60" font-size="2.9" font-weight="normal" text-anchor="end" fill="#555" >10⁵</text>
<line x1="167.90" y1="170.60" x2="169.20" y2="170.60" stroke="#444" stroke-width="0.6" />
<text x="167.40" y="171.60" font-size="2.9" font-weight="normal" text-anchor="end" fill="#555" >10⁴</text>
<line x1="167.90" y1="186.60" x2="169.20" y2="186.60" stroke="#444" stroke-width="0.6" />
<text x="167.40" y="187.60" font-size="2.9" font-weight="normal" text-anchor="end" fill="#555" >10³</text>
<line x1="167.90" y1="205.70" x2="169.20" y2="205.70" stroke="#444" stroke-width="0.6" />
<text x="167.40" y="206.70" font-size="2.9" font-weight="normal" text-anchor="end" fill="#555" >-10³</text>
<line x1="168.40" y1="159.40" x2="169.20" y2="159.40" stroke="#777" stroke-width="0.35" />
<line x1="168.40" y1="162.20" x2="169.20" y2="162.20" stroke="#777" stroke-width="0.35" />
<line x1="168.40" y1="165.00" x2="169.20" y2="165.00" stroke="#777" stroke-width="0.35" />
<line x1="168.40" y1="167.80" x2="169.20" y2="167.80" stroke="#777" stroke-width="0.35" />
<line x1="168.40" y1="173.80" x2="169.20" y2="173.80" stroke="#777" stroke-width="0.35" />
<line x1="168.40" y1="177.00" x2="169.20" y2="177.00" stroke="#777" stroke-width="0.35" />
<line x1="168.40" y1="180.20" x2="169.20" y2="180.20" stroke="#777" stroke-width="0.35" />
<line x1="168.40" y1="183.40" x2="169.20" y2="183.40" stroke="#777" stroke-width="0.35" />
<line x1="168.40" y1="190.42" x2="169.20" y2="190.42" stroke="#777" stroke-width="0.35" />
<line x1="168.40" y1="194.24" x2="169.20" y2="194.24" stroke="#777" stroke-width="0.35" />
<line x1="168.40" y1="198.06" x2="169.20" y2="198.06" stroke="#777" stroke-width="0.35" />
<line x1="168.40" y1="201.88" x2="169.20" y2="201.88" stroke="#777" stroke-width="0.35" />
<text x="159.90" y="179.75" font-size="2.6" font-weight="normal" text-anchor="middle" fill="#666" transform="rotate(-90 159.7 179.8)">Comp-PerCP-Cy5-5-A :: Ly6C</text>
<line x1="173.60" y1="208.00" x2="173.60" y2="209.30" stroke="#444" stroke-width="0.6" />
<text x="173.60" y="215.50" font-size="2.9" font-weight="normal" text-anchor="middle" fill="#555" >-10³</text>
<line x1="182.00" y1="208.00" x2="182.00" y2="209.30" stroke="#444" stroke-width="0.6" />
<text x="182.00" y="215.50" font-size="2.9" font-weight="normal" text-anchor="middle" fill="#555" >0</text>
<line x1="193.10" y1="208.00" x2="193.10" y2="209.30" stroke="#444" stroke-width="0.6" />
<text x="193.10" y="215.50" font-size="2.9" font-weight="normal" text-anchor="middle" fill="#555" >10³</text>
<line x1="208.90" y1="208.00" x2="208.90" y2="209.30" stroke="#444" stroke-width="0.6" />
<text x="208.90" y="215.50" font-size="2.9" font-weight="normal" text-anchor="middle" fill="#555" >10⁴</text>
<line x1="222.00" y1="208.00" x2="222.00" y2="209.30" stroke="#444" stroke-width="0.6" />
<text x="222.00" y="215.50" font-size="2.9" font-weight="normal" text-anchor="middle" fill="#555" >10⁵</text>
<line x1="175.70" y1="208.00" x2="175.70" y2="208.80" stroke="#777" stroke-width="0.35" />
<line x1="177.80" y1="208.00" x2="177.80" y2="208.80" stroke="#777" stroke-width="0.35" />
<line x1="179.90" y1="208.00" x2="179.90" y2="208.80" stroke="#777" stroke-width="0.35" />
<line x1="184.78" y1="208.00" x2="184.78" y2="208.80" stroke="#777" stroke-width="0.35" />
<line x1="187.55" y1="208.00" x2="187.55" y2="208.80" stroke="#777" stroke-width="0.35" />
<line x1="190.32" y1="208.00" x2="190.32" y2="208.80" stroke="#777" stroke-width="0.35" />
<line x1="197.05" y1="208.00" x2="197.05" y2="208.80" stroke="#777" stroke-width="0.35" />
<line x1="201.00" y1="208.00" x2="201.00" y2="208.80" stroke="#777" stroke-width="0.35" />
<line x1="204.95" y1="208.00" x2="204.95" y2="208.80" stroke="#777" stroke-width="0.35" />
<line x1="212.17" y1="208.00" x2="212.17" y2="208.80" stroke="#777" stroke-width="0.35" />
<line x1="215.45" y1="208.00" x2="215.45" y2="208.80" stroke="#777" stroke-width="0.35" />
<line x1="218.72" y1="208.00" x2="218.72" y2="208.80" stroke="#777" stroke-width="0.35" />
<text x="199.20" y="219.60" font-size="2.6" font-weight="normal" text-anchor="middle" fill="#666" >Comp-APC-A :: CD11b</text>
<text x="199.60" y="149.80" font-size="7.3" font-weight="bold" text-anchor="middle" fill="#000" >MSC</text>
<path d="M184.20,161.50 C187.62,170.36 187.34,179.21 187.34,186.80 C187.34,195.08 185.28,204.40 183.00,207.50 C180.72,204.40 179.74,195.08 179.74,186.80 C179.74,179.21 180.78,170.36 184.20,161.50 Z" fill="#5a5a5a" filter="url(#b08)"/>
<path d="M184.5 194.3h.01M184.2 198.6h.01M183.8 201.1h.01M184.1 161.7h.01M181.8 196.2h.01M184.0 162.4h.01M183.9 181.3h.01M183.5 206.6h.01M186.2 171.1h.01M184.8 166.5h.01M179.4 171.8h.01M186.1 176.4h.01M182.6 176.0h.01M183.9 180.0h.01M181.6 193.7h.01M186.4 170.0h.01M183.3 166.2h.01M182.3 203.7h.01M184.0 166.3h.01M180.5 178.5h.01M182.5 167.4h.01M181.0 183.2h.01M182.4 183.2h.01M180.8 181.0h.01M182.1 170.1h.01M183.5 202.7h.01M182.9 207.3h.01M183.4 171.7h.01M183.3 190.5h.01M181.7 193.3h.01M182.9 207.5h.01M187.1 181.6h.01M184.5 191.5h.01M182.7 177.4h.01M183.3 206.8h.01M184.4 183.4h.01M180.1 195.8h.01M179.6 192.3h.01M184.2 161.6h.01M184.0 181.4h.01M183.6 162.7h.01M183.6 170.8h.01M180.0 200.9h.01M186.6 178.0h.01M181.7 190.0h.01M182.9 197.4h.01M184.2 161.7h.01M184.3 202.1h.01M185.6 184.5h.01M183.9 189.5h.01M185.6 198.7h.01M186.2 179.5h.01M181.3 185.6h.01M183.1 207.1h.01M184.5 203.8h.01M181.6 193.7h.01M186.3 168.0h.01M184.3 192.5h.01M182.7 190.5h.01M183.8 203.9h.01M185.8 186.0h.01M184.0 177.5h.01M185.7 164.6h.01M182.7 199.0h.01M184.1 161.7h.01M183.8 194.9h.01M184.0 198.7h.01M182.1 167.1h.01M184.6 162.1h.01M184.9 199.6h.01M184.0 185.2h.01M186.3 167.0h.01M189.7 176.4h.01M183.8 180.6h.01M184.1 197.0h.01M182.7 206.9h.01M187.7 197.1h.01M183.1 165.3h.01M183.6 196.0h.01M185.6 177.2h.01M183.3 207.0h.01M184.5 167.4h.01M182.9 207.4h.01M183.7 185.4h.01M182.2 196.8h.01M185.1 195.7h.01M184.8 193.8h.01M182.3 200.5h.01M181.4 195.4h.01M182.4 187.6h.01M184.7 165.0h.01M184.6 167.2h.01M183.9 163.7h.01M179.7 189.8h.01M183.4 171.0h.01M179.1 190.0h.01M182.4 172.0h.01M183.1 173.9h.01M185.2 168.3h.01M182.2 204.4h.01M183.8 169.4h.01M185.0 164.2h.01M181.6 175.4h.01M182.8 203.3h.01M181.4 188.1h.01M181.4 197.6h.01M189.9 178.4h.01M183.3 198.0h.01M184.7 167.3h.01M184.5 191.8h.01M185.4 167.5h.01M184.2 161.8h.01M183.0 173.4h.01M184.2 161.6h.01M184.0 173.5h.01M185.7 180.6h.01M183.6 178.1h.01M183.5 200.0h.01M183.2 195.5h.01M183.9 172.2h.01M182.4 202.9h.01M183.5 199.2h.01M184.2 202.5h.01M185.5 187.3h.01M183.4 166.9h.01M186.2 192.5h.01M181.8 190.4h.01M183.6 164.7h.01M184.5 162.2h.01M181.2 203.1h.01M184.2 165.0h.01M182.5 177.4h.01M185.8 170.7h.01M180.9 199.8h.01M185.3 179.0h.01M182.8 187.9h.01M183.6 192.5h.01M185.1 166.1h.01M183.6 198.1h.01M184.8 174.3h.01M181.6 191.0h.01M181.8 200.8h.01M183.9 196.1h.01M185.7 169.3h.01M184.3 172.6h.01M184.5 177.6h.01M182.8 202.3h.01M183.3 171.6h.01M182.9 188.7h.01M184.0 165.8h.01M182.7 187.5h.01M182.8 197.0h.01M182.1 172.6h.01M182.4 177.1h.01M182.4 205.0h.01M185.1 186.4h.01M185.8 200.1h.01M183.2 186.3h.01M179.9 194.5h.01M182.1 206.1h.01M183.8 196.5h.01M186.6 181.7h.01M184.2 172.1h.01M181.9 194.1h.01M180.3 184.0h.01M184.8 194.8h.01M183.4 207.0h.01M183.9 173.6h.01M178.0 192.3h.01M183.8 182.1h.01M186.2 177.9h.01M184.0 186.0h.01M185.7 175.7h.01M184.7 164.7h.01M182.8 169.4h.01M184.4 184.5h.01M182.6 185.9h.01M184.3 162.3h.01M185.5 187.2h.01M183.5 177.7h.01M183.7 176.2h.01M181.2 198.1h.01M184.3 161.7h.01M184.9 178.5h.01M179.3 179.9h.01M187.7 181.7h.01M186.9 188.0h.01M182.7 188.9h.01M183.0 199.6h.01M183.2 205.6h.01M182.8 186.1h.01M182.9 195.8h.01M182.6 178.7h.01M182.5 203.7h.01M183.0 178.5h.01M187.4 171.7h.01M178.6 174.0h.01M184.3 166.8h.01M184.1 171.2h.01M182.8 180.6h.01M182.5 197.5h.01M182.1 166.9h.01M181.7 202.4h.01M187.0 183.2h.01M182.2 202.5h.01M184.2 168.4h.01M185.0 184.3h.01M183.4 201.7h.01M184.4 187.9h.01M182.6 183.6h.01M185.1 183.1h.01M183.6 203.9h.01M180.4 194.8h.01M183.1 201.1h.01M182.9 205.4h.01M182.9 201.6h.01M184.0 169.1h.01M184.9 185.1h.01M180.9 188.3h.01M184.4 168.0h.01M181.6 194.5h.01M182.9 199.8h.01M185.2 204.7h.01M183.1 164.7h.01M182.1 179.4h.01M183.8 195.7h.01M184.0 203.1h.01M183.5 206.0h.01M182.6 202.4h.01M184.0 182.5h.01M183.9 185.3h.01M182.7 174.4h.01M183.4 206.8h.01M184.2 165.9h.01M179.2 196.0h.01M185.7 171.8h.01M183.2 201.9h.01M184.4 165.5h.01M182.4 165.0h.01M187.5 177.8h.01M185.9 194.5h.01M184.2 186.3h.01M183.1 166.0h.01M182.7 176.6h.01M182.9 199.7h.01M183.6 166.4h.01M184.1 163.9h.01M183.8 206.0h.01M183.2 206.1h.01M182.5 197.9h.01M176.9 196.6h.01M184.8 189.1h.01M184.2 166.9h.01M184.7 189.6h.01M183.7 190.2h.01M184.2 162.0h.01M183.0 206.2h.01M184.2 201.4h.01M184.7 166.6h.01M178.6 187.4h.01M186.7 189.5h.01M183.6 189.7h.01M182.3 197.0h.01M183.8 171.7h.01M184.4 191.5h.01M184.3 173.0h.01M181.6 198.1h.01M182.9 205.8h.01M183.7 188.2h.01M185.0 200.9h.01M181.1 178.5h.01M183.2 206.9h.01M184.7 190.9h.01M186.3 176.3h.01M183.5 183.3h.01M183.1 184.8h.01M180.8 175.9h.01M181.1 183.0h.01M183.0 190.5h.01M185.4 185.0h.01M184.2 186.0h.01M187.6 184.5h.01M183.7 177.9h.01M185.3 203.0h.01M183.1 204.7h.01M184.3 190.6h.01M184.5 162.6h.01M181.3 177.0h.01M183.1 181.8h.01M182.6 178.3h.01M182.2 197.7h.01M182.9 166.2h.01M183.9 171.5h.01M184.0 190.9h.01M186.2 187.8h.01M182.5 203.7h.01M181.7 183.1h.01M183.4 182.9h.01M183.0 204.6h.01M183.8 177.8h.01M182.6 170.6h.01M181.6 183.4h.01M183.1 204.1h.01M184.0 162.9h.01M180.8 193.7h.01M181.6 184.5h.01M183.3 163.1h.01M184.8 189.2h.01M185.0 163.5h.01M187.2 186.6h.01M183.2 169.1h.01M180.1 201.3h.01M183.8 191.2h.01M182.7 182.8h.01M182.7 198.8h.01M183.8 201.3h.01M184.1 193.9h.01M183.6 187.1h.01M182.0 205.4h.01M182.7 166.3h.01M184.4 188.0h.01M185.1 168.4h.01M187.0 182.8h.01M184.4 191.2h.01M183.2 203.1h.01M182.6 201.5h.01M186.1 186.5h.01M183.7 165.2h.01M186.3 193.9h.01M189.7 186.3h.01" stroke="#333" stroke-width="0.90" stroke-linecap="round" opacity="0.5"/>
<path d="M207.7 164.1h.01M197.9 179.5h.01M200.3 167.6h.01M201.0 176.1h.01M201.1 168.7h.01M205.8 172.5h.01M200.8 170.5h.01M199.8 183.8h.01M200.9 179.1h.01M201.1 173.3h.01M202.3 169.5h.01M199.6 167.0h.01M193.2 177.9h.01M198.2 173.3h.01M200.9 169.6h.01M197.7 181.8h.01M195.5 173.4h.01M200.3 167.4h.01M196.3 178.6h.01M207.5 167.7h.01M221.2 161.0h.01M209.3 162.5h.01M208.4 173.6h.01M199.8 180.1h.01M197.2 169.6h.01M201.7 167.8h.01M205.8 163.7h.01M202.5 162.5h.01M201.8 175.5h.01M200.5 173.4h.01M208.5 161.9h.01M194.5 176.6h.01M203.7 168.7h.01M196.3 180.1h.01M195.1 174.7h.01M201.8 174.2h.01M199.4 169.4h.01M213.9 159.1h.01M206.7 167.0h.01M199.2 172.8h.01M200.5 173.4h.01M202.4 166.6h.01M199.7 182.4h.01M213.0 166.0h.01M203.4 168.7h.01M210.2 163.4h.01M197.2 177.3h.01M196.3 171.7h.01M210.6 158.3h.01M201.6 171.8h.01M203.6 163.8h.01M200.7 170.5h.01M213.4 167.2h.01M197.5 177.8h.01M205.9 167.8h.01M200.6 170.8h.01M192.9 174.7h.01M207.6 173.1h.01M213.0 161.7h.01M205.7 158.4h.01M200.4 166.8h.01M206.9 160.6h.01M195.9 170.7h.01M204.4 172.8h.01M196.6 182.3h.01M203.0 166.8h.01M204.1 169.5h.01M207.0 169.0h.01M215.0 166.8h.01M198.2 176.9h.01M206.5 163.6h.01M197.6 170.7h.01M200.7 177.0h.01M198.7 173.6h.01M206.3 172.0h.01M203.9 165.3h.01M215.1 165.5h.01M210.1 172.1h.01M210.3 166.9h.01M204.8 171.7h.01M193.1 180.6h.01M196.3 176.8h.01M196.0 178.2h.01M199.2 183.4h.01M203.2 172.3h.01M196.7 173.5h.01M201.7 170.0h.01M199.5 169.1h.01M206.5 166.2h.01M197.2 175.9h.01M197.2 173.6h.01M199.0 169.2h.01M200.7 168.5h.01M194.6 177.6h.01M200.3 166.1h.01M199.7 173.4h.01M204.6 170.8h.01M203.5 172.4h.01M199.1 169.7h.01M205.7 166.7h.01M202.1 173.7h.01M207.6 172.2h.01M198.0 172.3h.01M205.3 162.7h.01M194.6 178.7h.01M198.4 169.7h.01M206.8 169.9h.01M207.5 165.8h.01M200.3 170.7h.01M203.8 161.3h.01M198.0 176.8h.01M197.4 173.9h.01M202.8 172.6h.01M199.2 168.2h.01M216.8 157.7h.01M212.2 156.6h.01M202.7 169.7h.01M213.2 171.6h.01M207.8 162.7h.01M197.3 171.2h.01M199.0 174.2h.01M197.4 173.2h.01M210.7 170.9h.01M199.9 177.9h.01M200.1 180.3h.01M204.2 175.4h.01M197.0 173.2h.01M208.1 169.1h.01M203.1 172.8h.01M198.3 180.8h.01M203.0 176.4h.01M204.4 169.7h.01M200.2 167.4h.01M207.2 170.5h.01M207.6 165.5h.01M196.1 173.5h.01M200.2 172.2h.01M207.9 163.1h.01M199.2 175.8h.01M207.4 176.4h.01M205.2 165.3h.01M195.9 172.0h.01M202.5 171.7h.01M201.7 168.7h.01M201.0 171.4h.01M205.6 168.9h.01M197.3 169.4h.01M210.8 164.5h.01M201.0 171.6h.01M208.7 165.0h.01" stroke="#aaa" stroke-width="0.72" stroke-linecap="round" opacity="0.75"/>
<path d="M183.6 163.1h.01M184.7 160.1h.01M183.6 168.0h.01M186.5 166.4h.01M183.9 170.1h.01M185.1 169.4h.01M179.5 159.8h.01M185.4 163.0h.01M181.8 160.3h.01M187.4 159.4h.01M183.3 158.6h.01M180.1 170.3h.01M180.5 157.1h.01M184.1 159.8h.01M178.8 168.4h.01M180.9 159.9h.01M183.5 163.3h.01M186.3 164.4h.01M187.7 168.4h.01M188.3 168.4h.01M183.3 166.1h.01M183.1 158.0h.01M179.6 166.9h.01M176.1 160.8h.01M179.3 163.8h.01M180.0 165.0h.01M182.5 162.2h.01M180.6 155.4h.01M183.3 159.0h.01M182.2 165.4h.01M186.1 166.7h.01M187.4 158.5h.01M185.0 170.1h.01M184.2 159.7h.01M184.2 162.0h.01M181.2 168.1h.01M182.5 159.7h.01M181.1 171.6h.01M180.6 166.6h.01M183.6 168.5h.01" stroke="#aaa" stroke-width="0.72" stroke-linecap="round" opacity="0.75"/>
<rect x="171.70" y="153.00" width="17.20" height="18.90" stroke="#888" stroke-width="0.9" fill="none"/>
<polyline points="176.2,171.9 176.2,203.1 227.2,203.1" fill="none" stroke="#888" stroke-width="0.9"/>
<rect x="191.20" y="153.00" width="31.60" height="35.40" stroke="#222" stroke-width="1.3" fill="none"/>
<text x="208.70" y="198.60" font-size="7" font-weight="bold" text-anchor="middle" fill="#000" >4.46</text>
<circle cx="169" cy="196.6" r="1" fill="#000"/><circle cx="182.5" cy="207.8" r="1" fill="#000"/>
<line x1="222.80" y1="164.20" x2="263.00" y2="164.20" stroke="#000" stroke-width="1.3" />
<polygon points="266.50,164.20 262.20,161.71 262.85,164.20 262.20,166.69" fill="#000"/>
<line x1="227.20" y1="203.10" x2="256.00" y2="203.10" stroke="#555" stroke-width="0.9" />
<polygon points="259.90,203.10 255.70,200.66 256.33,203.10 255.70,205.54" fill="#000"/>
<polyline points="3.3,163 3.3,227.8 215,227.8" fill="none" stroke="#000" stroke-width="1.6"/>
<polygon points="3.30,159.90 0.86,164.10 3.30,163.47 5.74,164.10" fill="#000"/>
<polygon points="218.20,227.80 214.20,225.48 214.80,227.80 214.20,230.12" fill="#000"/>
<text transform="translate(7.0 157.2) rotate(-90)" font-size="7.2" font-weight="bold">Ly6C</text>
<text x="220.20" y="229.80" font-size="7.3" font-weight="bold" text-anchor="start" fill="#000" >CD11b</text>
<rect x="256.30" y="145.20" width="67.90" height="64.50" stroke="#8a8a8a" stroke-width="0.8" fill="none"/>
<line x1="256.30" y1="209.70" x2="324.20" y2="209.70" stroke="#444" stroke-width="0.9" />
<text x="290.40" y="142.40" font-size="7.3" font-weight="bold" text-anchor="middle" fill="#000" >IL-10</text>
<polyline points="256.3,209.2 256.9,209.2 257.4,209.1 258.0,209.1 258.6,209.0 259.1,208.7 259.7,208.2 260.3,207.4 260.8,206.2 261.4,204.2 262.0,201.4 262.5,197.6 263.1,192.9 263.7,187.4 264.2,181.4 264.8,175.6 265.4,170.6 265.9,167.1 266.5,165.5 267.1,165.9 267.6,167.7 268.2,170.5 268.7,174.3 269.3,178.7 269.9,183.4 270.4,188.0 271.0,192.3 271.6,196.2 272.1,199.5 272.7,202.1 273.3,204.2 273.8,205.8 274.4,207.0 275.0,207.8 275.5,208.3 276.1,208.7 276.7,208.9 277.2,209.0 277.8,209.1 278.4,209.1 278.9,209.2 279.5,209.2 280.1,209.2 280.6,209.2 281.2,209.2 281.8,209.2 282.3,209.2 282.9,209.2 283.5,209.2 284.0,209.2 284.6,209.2 285.2,209.2 285.7,209.2 286.3,209.2 286.9,209.2 287.4,209.2 288.0,209.2 288.6,209.2 289.1,209.2 289.7,209.2 290.2,209.2 290.8,209.2 291.4,209.2 291.9,209.2 292.5,209.2 293.1,209.2 293.6,209.2 294.2,209.2 294.8,209.2 295.3,209.2 295.9,209.2 296.5,209.2 297.0,209.2 297.6,209.2 298.2,209.2 298.7,209.2 299.3,209.2 299.9,209.2 300.4,209.2 301.0,209.2 301.6,209.2 302.1,209.2 302.7,209.2 303.3,209.2 303.8,209.2 304.4,209.2 305.0,209.2 305.5,209.2 306.1,209.2 306.7,209.2 307.2,209.2 307.8,209.2 308.4,209.2 308.9,209.2 309.5,209.2 310.1,209.2 310.6,209.2 311.2,209.2 311.8,209.2 312.3,209.2 312.9,209.2 313.4,209.2 314.0,209.2 314.6,209.2 315.1,209.2 315.7,209.2 316.3,209.2 316.8,209.2 317.4,209.2 318.0,209.2 318.5,209.2 319.1,209.2 319.7,209.2 320.2,209.2 320.8,209.2 321.4,209.2 321.9,209.2 322.5,209.2 323.1,209.2 323.6,209.2 324.2,209.2" fill="none" stroke="#999" stroke-width="0.7"/>
<polyline points="256.3,209.2 256.9,209.2 257.4,209.2 258.0,209.2 258.6,209.2 259.1,209.2 259.7,209.2 260.3,209.1 260.8,209.0 261.4,208.9 262.0,208.6 262.5,208.2 263.1,207.4 263.7,206.3 264.2,204.6 264.8,202.2 265.4,199.0 265.9,194.9 266.5,190.0 267.1,184.4 267.6,178.5 268.2,172.7 268.7,167.5 269.3,163.5 269.9,161.1 270.4,160.6 271.0,161.1 271.6,162.3 272.1,164.1 272.7,166.4 273.3,169.1 273.8,172.2 274.4,175.5 275.0,178.9 275.5,182.4 276.1,185.8 276.7,189.1 277.2,192.1 277.8,194.9 278.4,197.4 278.9,199.6 279.5,201.5 280.1,203.1 280.6,204.4 281.2,205.5 281.8,206.4 282.3,207.1 282.9,207.6 283.5,208.1 284.0,208.4 284.6,208.6 285.2,208.8 285.7,208.9 286.3,209.0 286.9,209.1 287.4,209.1 288.0,209.1 288.6,209.2 289.1,209.2 289.7,209.2 290.2,209.2 290.8,209.2 291.4,209.2 291.9,209.2 292.5,209.2 293.1,209.2 293.6,209.2 294.2,209.2 294.8,209.2 295.3,209.2 295.9,209.2 296.5,209.2 297.0,209.2 297.6,209.2 298.2,209.2 298.7,209.2 299.3,209.2 299.9,209.2 300.4,209.2 301.0,209.2 301.6,209.2 302.1,209.2 302.7,209.2 303.3,209.2 303.8,209.2 304.4,209.2 305.0,209.2 305.5,209.2 306.1,209.2 306.7,209.2 307.2,209.2 307.8,209.2 308.4,209.2 308.9,209.2 309.5,209.2 310.1,209.2 310.6,209.2 311.2,209.2 311.8,209.2 312.3,209.2 312.9,209.2 313.4,209.2 314.0,209.2 314.6,209.2 315.1,209.2 315.7,209.2 316.3,209.2 316.8,209.2 317.4,209.2 318.0,209.2 318.5,209.2 319.1,209.2 319.7,209.2 320.2,209.2 320.8,209.2 321.4,209.2 321.9,209.2 322.5,209.2 323.1,209.2 323.6,209.2 324.2,209.2" fill="none" stroke="#222" stroke-width="0.8"/>
<text x="285.80" y="184.60" font-size="7" font-weight="bold" text-anchor="middle" fill="#000" >53.2</text>
<line x1="272.70" y1="188.00" x2="293.50" y2="188.00" stroke="#000" stroke-width="0.8" />
<line x1="272.70" y1="186.50" x2="272.70" y2="189.50" stroke="#000" stroke-width="0.8" />
<line x1="293.50" y1="186.50" x2="293.50" y2="189.50" stroke="#000" stroke-width="0.8" />
<line x1="262.00" y1="209.70" x2="262.00" y2="211.10" stroke="#444" stroke-width="0.6" />
<text x="262.00" y="217.50" font-size="3.0" font-weight="normal" text-anchor="middle" fill="#555" >0</text>
<line x1="271.50" y1="209.70" x2="271.50" y2="211.10" stroke="#444" stroke-width="0.6" />
<text x="271.50" y="217.50" font-size="3.0" font-weight="normal" text-anchor="middle" fill="#555" >10²</text>
<line x1="288.00" y1="209.70" x2="288.00" y2="211.10" stroke="#444" stroke-width="0.6" />
<text x="288.00" y="217.50" font-size="3.0" font-weight="normal" text-anchor="middle" fill="#555" >10³</text>
<line x1="304.00" y1="209.70" x2="304.00" y2="211.10" stroke="#444" stroke-width="0.6" />
<text x="304.00" y="217.50" font-size="3.0" font-weight="normal" text-anchor="middle" fill="#555" >10⁴</text>
<line x1="319.50" y1="209.70" x2="319.50" y2="211.10" stroke="#444" stroke-width="0.6" />
<text x="319.50" y="217.50" font-size="3.0" font-weight="normal" text-anchor="middle" fill="#555" >10⁵</text>
<line x1="264.38" y1="209.70" x2="264.38" y2="210.50" stroke="#777" stroke-width="0.4" />
<line x1="266.75" y1="209.70" x2="266.75" y2="210.50" stroke="#777" stroke-width="0.4" />
<line x1="269.12" y1="209.70" x2="269.12" y2="210.50" stroke="#777" stroke-width="0.4" />
<line x1="275.62" y1="209.70" x2="275.62" y2="210.50" stroke="#777" stroke-width="0.4" />
<line x1="279.75" y1="209.70" x2="279.75" y2="210.50" stroke="#777" stroke-width="0.4" />
<line x1="283.88" y1="209.70" x2="283.88" y2="210.50" stroke="#777" stroke-width="0.4" />
<line x1="292.00" y1="209.70" x2="292.00" y2="210.50" stroke="#777" stroke-width="0.4" />
<line x1="296.00" y1="209.70" x2="296.00" y2="210.50" stroke="#777" stroke-width="0.4" />
<line x1="300.00" y1="209.70" x2="300.00" y2="210.50" stroke="#777" stroke-width="0.4" />
<line x1="307.88" y1="209.70" x2="307.88" y2="210.50" stroke="#777" stroke-width="0.4" />
<line x1="311.75" y1="209.70" x2="311.75" y2="210.50" stroke="#777" stroke-width="0.4" />
<line x1="315.62" y1="209.70" x2="315.62" y2="210.50" stroke="#777" stroke-width="0.4" />
<text x="290.00" y="222.10" font-size="2.6" font-weight="normal" text-anchor="middle" fill="#666" >Comp-APC-H :: IL10</text>
<text x="249.00" y="177.30" font-size="3.0" font-weight="normal" text-anchor="middle" fill="#555" transform="rotate(-90 249 177.3)">Count</text>
<text x="254.60" y="209.60" font-size="2.8" font-weight="normal" text-anchor="end" fill="#555" >0</text>
<text x="231.20" y="9.60" font-size="12.2" font-weight="normal" text-anchor="start" fill="#000" >B</text>
<text transform="translate(257.40 58.00) rotate(-90)" font-size="6.8" font-weight="bold" text-anchor="middle">% MHC II<tspan font-size="4.76" dy="-2.45">lo</tspan><tspan dy="2.45">Ly6G</tspan><tspan font-size="4.76" dy="-2.45">-</tspan><tspan dy="2.45">Ly6C</tspan><tspan font-size="4.76" dy="-2.45">+</tspan><tspan dy="2.45">CD11b</tspan><tspan font-size="4.76" dy="-2.45">+</tspan></text>
<line x1="271.70" y1="23.90" x2="271.70" y2="90.40" stroke="#000" stroke-width="1.2" />
<line x1="271.20" y1="90.40" x2="329.60" y2="90.40" stroke="#000" stroke-width="1.2" />
<line x1="269.70" y1="90.40" x2="271.70" y2="90.40" stroke="#000" stroke-width="1.1" />
<text x="268.60" y="93.15" font-size="6.1" font-weight="bold" text-anchor="end" fill="#000" >0</text>
<line x1="269.70" y1="68.40" x2="271.70" y2="68.40" stroke="#000" stroke-width="1.1" />
<text x="268.60" y="71.15" font-size="6.1" font-weight="bold" text-anchor="end" fill="#000" >3</text>
<line x1="269.70" y1="46.40" x2="271.70" y2="46.40" stroke="#000" stroke-width="1.1" />
<text x="268.60" y="49.15" font-size="6.1" font-weight="bold" text-anchor="end" fill="#000" >6</text>
<line x1="269.70" y1="24.40" x2="271.70" y2="24.40" stroke="#000" stroke-width="1.1" />
<text x="268.60" y="27.15" font-size="6.1" font-weight="bold" text-anchor="end" fill="#000" >9</text>
<line x1="281.40" y1="90.40" x2="281.40" y2="92.60" stroke="#000" stroke-width="1.1" />
<line x1="300.50" y1="90.40" x2="300.50" y2="92.60" stroke="#000" stroke-width="1.1" />
<line x1="319.70" y1="90.40" x2="319.70" y2="92.60" stroke="#000" stroke-width="1.1" />
<text x="299.40" y="16.40" font-size="7.5" font-weight="bold" text-anchor="middle" fill="#000" >Popliteal LN</text>
<text transform="translate(282.90 97.80) rotate(-45)" font-size="6.25" font-weight="bold" text-anchor="end">No EAU</text>
<text transform="translate(302.00 97.80) rotate(-45)" font-size="6.25" font-weight="bold" text-anchor="end">EAU+BSS</text>
<text transform="translate(321.20 97.80) rotate(-45)" font-size="6.25" font-weight="bold" text-anchor="end">EAU+MSC</text>
<rect x="273.55" y="87.26" width="2.5" height="2.5" fill="none" stroke="#000" stroke-width="1"/>
<rect x="274.95" y="86.91" width="2.5" height="2.5" fill="none" stroke="#000" stroke-width="1"/>
<rect x="276.35" y="87.21" width="2.5" height="2.5" fill="none" stroke="#000" stroke-width="1"/>
<rect x="277.75" y="87.04" width="2.5" height="2.5" fill="none" stroke="#000" stroke-width="1"/>
<rect x="279.15" y="86.56" width="2.5" height="2.5" fill="none" stroke="#000" stroke-width="1"/>
<rect x="280.55" y="87.51" width="2.5" height="2.5" fill="none" stroke="#000" stroke-width="1"/>
<rect x="281.95" y="86.84" width="2.5" height="2.5" fill="none" stroke="#000" stroke-width="1"/>
<rect x="283.35" y="87.10" width="2.5" height="2.5" fill="none" stroke="#000" stroke-width="1"/>
<rect x="284.75" y="87.51" width="2.5" height="2.5" fill="none" stroke="#000" stroke-width="1"/>
<rect x="286.15" y="86.76" width="2.5" height="2.5" fill="none" stroke="#000" stroke-width="1"/>
<rect x="287.35" y="86.61" width="2.5" height="2.5" fill="none" stroke="#000" stroke-width="1"/>
<rect x="279.95" y="83.75" width="2.5" height="2.5" fill="#fff" stroke="#000" stroke-width="1"/>
<line x1="274.80" y1="88.40" x2="288.00" y2="88.40" stroke="#000" stroke-width="1.2" />
<line x1="281.40" y1="87.90" x2="281.40" y2="88.90" stroke="#000" stroke-width="1.1" />
<line x1="279.40" y1="87.90" x2="283.40" y2="87.90" stroke="#000" stroke-width="1.1" />
<line x1="279.40" y1="88.90" x2="283.40" y2="88.90" stroke="#000" stroke-width="1.1" />
<circle cx="302.40" cy="76.00" r="1.35" fill="#fff" stroke="#000" stroke-width="1"/>
<circle cx="296.60" cy="78.50" r="1.35" fill="#fff" stroke="#000" stroke-width="1"/>
<circle cx="298.20" cy="80.00" r="1.35" fill="#fff" stroke="#000" stroke-width="1"/>
<circle cx="299.50" cy="81.50" r="1.35" fill="#fff" stroke="#000" stroke-width="1"/>
<circle cx="301.50" cy="82.30" r="1.35" fill="#fff" stroke="#000" stroke-width="1"/>
<circle cx="303.30" cy="81.60" r="1.35" fill="#fff" stroke="#000" stroke-width="1"/>
<circle cx="298.80" cy="82.80" r="1.35" fill="#fff" stroke="#000" stroke-width="1"/>
<circle cx="301.00" cy="83.50" r="1.35" fill="#fff" stroke="#000" stroke-width="1"/>
<circle cx="303.80" cy="83.40" r="1.35" fill="#fff" stroke="#000" stroke-width="1"/>
<circle cx="300.50" cy="88.50" r="1.35" fill="#fff" stroke="#000" stroke-width="1"/>
<line x1="292.90" y1="81.70" x2="308.10" y2="81.70" stroke="#000" stroke-width="1.2" />
<line x1="300.50" y1="80.30" x2="300.50" y2="82.80" stroke="#000" stroke-width="1.1" />
<line x1="298.10" y1="80.30" x2="302.90" y2="80.30" stroke="#000" stroke-width="1.1" />
<line x1="298.10" y1="82.80" x2="302.90" y2="82.80" stroke="#000" stroke-width="1.1" />
<circle cx="319.70" cy="36.10" r="1.55" fill="#000"/>
<circle cx="317.90" cy="53.40" r="1.55" fill="#000"/>
<circle cx="321.30" cy="54.30" r="1.55" fill="#000"/>
<circle cx="319.30" cy="57.00" r="1.55" fill="#000"/>
<circle cx="315.90" cy="62.70" r="1.55" fill="#000"/>
<circle cx="318.60" cy="60.70" r="1.55" fill="#000"/>
<circle cx="322.70" cy="62.70" r="1.55" fill="#000"/>
<circle cx="319.70" cy="65.70" r="1.55" fill="#000"/>
<circle cx="319.70" cy="73.30" r="1.55" fill="#000"/>
<line x1="312.00" y1="58.30" x2="327.40" y2="58.30" stroke="#000" stroke-width="1.2" />
<line x1="319.70" y1="55.20" x2="319.70" y2="61.30" stroke="#000" stroke-width="1.1" />
<line x1="317.10" y1="55.20" x2="322.30" y2="55.20" stroke="#000" stroke-width="1.1" />
<line x1="317.10" y1="61.30" x2="322.30" y2="61.30" stroke="#000" stroke-width="1.1" />
<polyline points="281.40,32.40 281.40,30.20 299.70,30.20 299.70,32.40" fill="none" stroke="#000" stroke-width="1.1"/>
<text x="290.55" y="31.20" font-size="7.9" font-weight="bold" text-anchor="middle" fill="#000" >***</text>
<polyline points="301.30,32.40 301.30,30.20 319.70,30.20 319.70,32.40" fill="none" stroke="#000" stroke-width="1.1"/>
<text x="310.50" y="31.20" font-size="7.9" font-weight="bold" text-anchor="middle" fill="#000" >***</text>
<text transform="translate(350.20 59.20) rotate(-90)" font-size="6.8" font-weight="bold" text-anchor="middle">% MHC II<tspan font-size="4.76" dy="-2.45">lo</tspan><tspan dy="2.45">Ly6G</tspan><tspan font-size="4.76" dy="-2.45">-</tspan><tspan dy="2.45">Ly6C</tspan><tspan font-size="4.76" dy="-2.45">+</tspan><tspan dy="2.45">CD11b</tspan><tspan font-size="4.76" dy="-2.45">+</tspan></text>
<line x1="364.30" y1="25.40" x2="364.30" y2="91.70" stroke="#000" stroke-width="1.2" />
<line x1="363.80" y1="91.70" x2="423.30" y2="91.70" stroke="#000" stroke-width="1.2" />
<line x1="362.30" y1="91.70" x2="364.30" y2="91.70" stroke="#000" stroke-width="1.1" />
<text x="361.20" y="94.45" font-size="6.1" font-weight="bold" text-anchor="end" fill="#000" >0</text>
<line x1="362.30" y1="75.25" x2="364.30" y2="75.25" stroke="#000" stroke-width="1.1" />
<text x="361.20" y="78.00" font-size="6.1" font-weight="bold" text-anchor="end" fill="#000" >1</text>
<line x1="362.30" y1="58.80" x2="364.30" y2="58.80" stroke="#000" stroke-width="1.1" />
<text x="361.20" y="61.55" font-size="6.1" font-weight="bold" text-anchor="end" fill="#000" >2</text>
<line x1="362.30" y1="42.35" x2="364.30" y2="42.35" stroke="#000" stroke-width="1.1" />
<text x="361.20" y="45.10" font-size="6.1" font-weight="bold" text-anchor="end" fill="#000" >3</text>
<line x1="362.30" y1="25.90" x2="364.30" y2="25.90" stroke="#000" stroke-width="1.1" />
<text x="361.20" y="28.65" font-size="6.1" font-weight="bold" text-anchor="end" fill="#000" >4</text>
<line x1="373.80" y1="91.70" x2="373.80" y2="93.90" stroke="#000" stroke-width="1.1" />
<line x1="393.10" y1="91.70" x2="393.10" y2="93.90" stroke="#000" stroke-width="1.1" />
<line x1="412.10" y1="91.70" x2="412.10" y2="93.90" stroke="#000" stroke-width="1.1" />
<text x="392.70" y="17.80" font-size="7.2" font-weight="bold" text-anchor="middle" fill="#000" >Blood</text>
<text transform="translate(375.30 99.10) rotate(-45)" font-size="6.25" font-weight="bold" text-anchor="end">No EAU</text>
<text transform="translate(394.60 99.10) rotate(-45)" font-size="6.25" font-weight="bold" text-anchor="end">EAU+BSS</text>
<text transform="translate(413.60 99.10) rotate(-45)" font-size="6.25" font-weight="bold" text-anchor="end">EAU+MSC</text>
<rect x="372.15" y="67.65" width="2.5" height="2.5" fill="#fff" stroke="#000" stroke-width="1"/>
<rect x="369.25" y="70.45" width="2.5" height="2.5" fill="#fff" stroke="#000" stroke-width="1"/>
<rect x="374.35" y="71.05" width="2.5" height="2.5" fill="#fff" stroke="#000" stroke-width="1"/>
<rect x="377.75" y="71.45" width="2.5" height="2.5" fill="#fff" stroke="#000" stroke-width="1"/>
<rect x="366.35" y="71.45" width="2.5" height="2.5" fill="#fff" stroke="#000" stroke-width="1"/>
<rect x="371.15" y="73.75" width="2.5" height="2.5" fill="#fff" stroke="#000" stroke-width="1"/>
<rect x="372.15" y="79.45" width="2.5" height="2.5" fill="#fff" stroke="#000" stroke-width="1"/>
<line x1="366.50" y1="73.10" x2="381.10" y2="73.10" stroke="#000" stroke-width="1.2" />
<line x1="373.80" y1="71.20" x2="373.80" y2="75.00" stroke="#000" stroke-width="1.1" />
<line x1="371.40" y1="71.20" x2="376.20" y2="71.20" stroke="#000" stroke-width="1.1" />
<line x1="371.40" y1="75.00" x2="376.20" y2="75.00" stroke="#000" stroke-width="1.1" />
<circle cx="390.50" cy="59.70" r="1.35" fill="#fff" stroke="#000" stroke-width="1"/>
<circle cx="394.30" cy="60.30" r="1.35" fill="#fff" stroke="#000" stroke-width="1"/>
<circle cx="388.60" cy="63.10" r="1.35" fill="#fff" stroke="#000" stroke-width="1"/>
<circle cx="397.20" cy="62.20" r="1.35" fill="#fff" stroke="#000" stroke-width="1"/>
<circle cx="391.50" cy="65.00" r="1.35" fill="#fff" stroke="#000" stroke-width="1"/>
<circle cx="395.30" cy="65.40" r="1.35" fill="#fff" stroke="#000" stroke-width="1"/>
<circle cx="393.00" cy="63.50" r="1.35" fill="#fff" stroke="#000" stroke-width="1"/>
<line x1="385.80" y1="63.10" x2="400.40" y2="63.10" stroke="#000" stroke-width="1.2" />
<line x1="393.10" y1="62.20" x2="393.10" y2="64.00" stroke="#000" stroke-width="1.1" />
<line x1="390.70" y1="62.20" x2="395.50" y2="62.20" stroke="#000" stroke-width="1.1" />
<line x1="390.70" y1="64.00" x2="395.50" y2="64.00" stroke="#000" stroke-width="1.1" />
<circle cx="411.90" cy="45.00" r="1.55" fill="#000"/>
<circle cx="410.50" cy="56.50" r="1.55" fill="#000"/>
<circle cx="407.70" cy="59.30" r="1.55" fill="#000"/>
<circle cx="415.30" cy="59.30" r="1.55" fill="#000"/>
<circle cx="409.20" cy="62.20" r="1.55" fill="#000"/>
<circle cx="413.40" cy="62.20" r="1.55" fill="#000"/>
<circle cx="412.00" cy="57.50" r="1.55" fill="#000"/>
<line x1="404.80" y1="57.80" x2="419.40" y2="57.80" stroke="#000" stroke-width="1.2" />
<line x1="412.10" y1="55.10" x2="412.10" y2="60.30" stroke="#000" stroke-width="1.1" />
<line x1="409.70" y1="55.10" x2="414.50" y2="55.10" stroke="#000" stroke-width="1.1" />
<line x1="409.70" y1="60.30" x2="414.50" y2="60.30" stroke="#000" stroke-width="1.1" />
<polyline points="374.30,51.00 374.30,48.80 392.80,48.80 392.80,51.00" fill="none" stroke="#000" stroke-width="1.1"/>
<text x="383.55" y="49.80" font-size="7.9" font-weight="bold" text-anchor="middle" fill="#000" >***</text>
<polyline points="394.00,39.00 394.00,36.80 411.50,36.80 411.50,39.00" fill="none" stroke="#000" stroke-width="1.1"/>
<text x="402.75" y="37.80" font-size="7.9" font-weight="bold" text-anchor="middle" fill="#000" >*</text>
<text transform="translate(444.00 58.90) rotate(-90)" font-size="6.8" font-weight="bold" text-anchor="middle">% MHC II<tspan font-size="4.76" dy="-2.45">lo</tspan><tspan dy="2.45">Ly6G</tspan><tspan font-size="4.76" dy="-2.45">-</tspan><tspan dy="2.45">Ly6C</tspan><tspan font-size="4.76" dy="-2.45">+</tspan><tspan dy="2.45">CD11b</tspan><tspan font-size="4.76" dy="-2.45">+</tspan></text>
<line x1="461.10" y1="25.70" x2="461.10" y2="91.70" stroke="#000" stroke-width="1.2" />
<line x1="460.60" y1="91.70" x2="519.00" y2="91.70" stroke="#000" stroke-width="1.2" />
<line x1="459.10" y1="91.70" x2="461.10" y2="91.70" stroke="#000" stroke-width="1.1" />
<text x="458.00" y="94.45" font-size="6.1" font-weight="bold" text-anchor="end" fill="#000" >0.0</text>
<line x1="459.10" y1="80.78" x2="461.10" y2="80.78" stroke="#000" stroke-width="1.1" />
<text x="458.00" y="83.53" font-size="6.1" font-weight="bold" text-anchor="end" fill="#000" >0.4</text>
<line x1="459.10" y1="69.87" x2="461.10" y2="69.87" stroke="#000" stroke-width="1.1" />
<text x="458.00" y="72.62" font-size="6.1" font-weight="bold" text-anchor="end" fill="#000" >0.8</text>
<line x1="459.10" y1="58.95" x2="461.10" y2="58.95" stroke="#000" stroke-width="1.1" />
<text x="458.00" y="61.70" font-size="6.1" font-weight="bold" text-anchor="end" fill="#000" >1.2</text>
<line x1="459.10" y1="48.03" x2="461.10" y2="48.03" stroke="#000" stroke-width="1.1" />
<text x="458.00" y="50.78" font-size="6.1" font-weight="bold" text-anchor="end" fill="#000" >1.6</text>
<line x1="459.10" y1="37.12" x2="461.10" y2="37.12" stroke="#000" stroke-width="1.1" />
<text x="458.00" y="39.87" font-size="6.1" font-weight="bold" text-anchor="end" fill="#000" >2.0</text>
<line x1="459.10" y1="26.20" x2="461.10" y2="26.20" stroke="#000" stroke-width="1.1" />
<text x="458.00" y="28.95" font-size="6.1" font-weight="bold" text-anchor="end" fill="#000" >2.4</text>
<line x1="470.40" y1="91.70" x2="470.40" y2="93.90" stroke="#000" stroke-width="1.1" />
<line x1="489.50" y1="91.70" x2="489.50" y2="93.90" stroke="#000" stroke-width="1.1" />
<line x1="508.50" y1="91.70" x2="508.50" y2="93.90" stroke="#000" stroke-width="1.1" />
<text x="492.20" y="17.80" font-size="7.2" font-weight="bold" text-anchor="middle" fill="#000" >Spleen</text>
<text transform="translate(471.90 99.10) rotate(-45)" font-size="6.25" font-weight="bold" text-anchor="end">No EAU</text>
<text transform="translate(491.00 99.10) rotate(-45)" font-size="6.25" font-weight="bold" text-anchor="end">EAU+BSS</text>
<text transform="translate(510.00 99.10) rotate(-45)" font-size="6.25" font-weight="bold" text-anchor="end">EAU+MSC</text>
<rect x="467.85" y="43.75" width="2.5" height="2.5" fill="#fff" stroke="#000" stroke-width="1"/>
<rect x="471.05" y="47.05" width="2.5" height="2.5" fill="#fff" stroke="#000" stroke-width="1"/>
<rect x="463.95" y="58.05" width="2.5" height="2.5" fill="#fff" stroke="#000" stroke-width="1"/>
<rect x="467.25" y="59.95" width="2.5" height="2.5" fill="#fff" stroke="#000" stroke-width="1"/>
<rect x="471.05" y="59.95" width="2.5" height="2.5" fill="#fff" stroke="#000" stroke-width="1"/>
<rect x="474.85" y="57.15" width="2.5" height="2.5" fill="#fff" stroke="#000" stroke-width="1"/>
<rect x="468.75" y="56.75" width="2.5" height="2.5" fill="#fff" stroke="#000" stroke-width="1"/>
<line x1="462.60" y1="55.10" x2="478.20" y2="55.10" stroke="#000" stroke-width="1.2" />
<line x1="470.40" y1="52.70" x2="470.40" y2="57.80" stroke="#000" stroke-width="1.1" />
<line x1="468.00" y1="52.70" x2="472.80" y2="52.70" stroke="#000" stroke-width="1.1" />
<line x1="468.00" y1="57.80" x2="472.80" y2="57.80" stroke="#000" stroke-width="1.1" />
<circle cx="487.60" cy="38.70" r="1.35" fill="#fff" stroke="#000" stroke-width="1"/>
<circle cx="492.00" cy="37.40" r="1.35" fill="#fff" stroke="#000" stroke-width="1"/>
<circle cx="487.60" cy="49.80" r="1.35" fill="#fff" stroke="#000" stroke-width="1"/>
<circle cx="491.50" cy="49.50" r="1.35" fill="#fff" stroke="#000" stroke-width="1"/>
<circle cx="488.50" cy="55.50" r="1.35" fill="#fff" stroke="#000" stroke-width="1"/>
<circle cx="492.00" cy="55.10" r="1.35" fill="#fff" stroke="#000" stroke-width="1"/>
<circle cx="490.00" cy="52.00" r="1.35" fill="#fff" stroke="#000" stroke-width="1"/>
<line x1="481.50" y1="48.30" x2="497.50" y2="48.30" stroke="#000" stroke-width="1.2" />
<line x1="489.50" y1="45.00" x2="489.50" y2="51.70" stroke="#000" stroke-width="1.1" />
<line x1="487.10" y1="45.00" x2="491.90" y2="45.00" stroke="#000" stroke-width="1.1" />
<line x1="487.10" y1="51.70" x2="491.90" y2="51.70" stroke="#000" stroke-width="1.1" />
<circle cx="507.20" cy="45.00" r="1.55" fill="#000"/>
<circle cx="511.00" cy="48.30" r="1.55" fill="#000"/>
<circle cx="508.50" cy="53.20" r="1.55" fill="#000"/>
<circle cx="506.80" cy="54.80" r="1.55" fill="#000"/>
<circle cx="511.30" cy="53.50" r="1.55" fill="#000"/>
<circle cx="508.50" cy="58.40" r="1.55" fill="#000"/>
<circle cx="509.10" cy="67.00" r="1.55" fill="#000"/>
<line x1="500.70" y1="54.60" x2="516.30" y2="54.60" stroke="#000" stroke-width="1.2" />
<line x1="508.50" y1="51.70" x2="508.50" y2="57.80" stroke="#000" stroke-width="1.1" />
<line x1="506.10" y1="51.70" x2="510.90" y2="51.70" stroke="#000" stroke-width="1.1" />
<line x1="506.10" y1="57.80" x2="510.90" y2="57.80" stroke="#000" stroke-width="1.1" />
<text transform="translate(347.70 183.60) rotate(-90)" font-size="6.8" font-weight="bold" text-anchor="middle">% MHC II<tspan font-size="4.76" dy="-2.45">lo</tspan><tspan dy="2.45">Ly6G</tspan><tspan font-size="4.76" dy="-2.45">-</tspan><tspan dy="2.45">Ly6C</tspan><tspan font-size="4.76" dy="-2.45">+</tspan><tspan dy="2.45">CD11b</tspan><tspan font-size="4.76" dy="-2.45">+</tspan></text>
<line x1="364.10" y1="151.00" x2="364.10" y2="215.60" stroke="#000" stroke-width="1.2" />
<line x1="363.60" y1="215.60" x2="423.00" y2="215.60" stroke="#000" stroke-width="1.2" />
<line x1="362.10" y1="215.60" x2="364.10" y2="215.60" stroke="#000" stroke-width="1.1" />
<text x="361.00" y="218.35" font-size="6.1" font-weight="bold" text-anchor="end" fill="#000" >0.0</text>
<line x1="362.10" y1="202.78" x2="364.10" y2="202.78" stroke="#000" stroke-width="1.1" />
<text x="361.00" y="205.53" font-size="6.1" font-weight="bold" text-anchor="end" fill="#000" >0.1</text>
<line x1="362.10" y1="189.96" x2="364.10" y2="189.96" stroke="#000" stroke-width="1.1" />
<text x="361.00" y="192.71" font-size="6.1" font-weight="bold" text-anchor="end" fill="#000" >0.2</text>
<line x1="362.10" y1="177.14" x2="364.10" y2="177.14" stroke="#000" stroke-width="1.1" />
<text x="361.00" y="179.89" font-size="6.1" font-weight="bold" text-anchor="end" fill="#000" >0.3</text>
<line x1="362.10" y1="164.32" x2="364.10" y2="164.32" stroke="#000" stroke-width="1.1" />
<text x="361.00" y="167.07" font-size="6.1" font-weight="bold" text-anchor="end" fill="#000" >0.4</text>
<line x1="362.10" y1="151.50" x2="364.10" y2="151.50" stroke="#000" stroke-width="1.1" />
<text x="361.00" y="154.25" font-size="6.1" font-weight="bold" text-anchor="end" fill="#000" >0.5</text>
<line x1="373.60" y1="215.60" x2="373.60" y2="217.80" stroke="#000" stroke-width="1.1" />
<line x1="392.80" y1="215.60" x2="392.80" y2="217.80" stroke="#000" stroke-width="1.1" />
<line x1="411.60" y1="215.60" x2="411.60" y2="217.80" stroke="#000" stroke-width="1.1" />
<text x="391.20" y="143.30" font-size="7.2" font-weight="bold" text-anchor="middle" fill="#000" >Lung</text>
<text transform="translate(375.10 223.00) rotate(-45)" font-size="6.25" font-weight="bold" text-anchor="end">No EAU</text>
<text transform="translate(394.30 223.00) rotate(-45)" font-size="6.25" font-weight="bold" text-anchor="end">EAU+BSS</text>
<text transform="translate(413.10 223.00) rotate(-45)" font-size="6.25" font-weight="bold" text-anchor="end">EAU+MSC</text>
<rect x="372.45" y="161.65" width="2.5" height="2.5" fill="#fff" stroke="#000" stroke-width="1"/>
<rect x="372.45" y="169.25" width="2.5" height="2.5" fill="#fff" stroke="#000" stroke-width="1"/>
<rect x="374.05" y="177.25" width="2.5" height="2.5" fill="#fff" stroke="#000" stroke-width="1"/>
<rect x="370.55" y="180.15" width="2.5" height="2.5" fill="#fff" stroke="#000" stroke-width="1"/>
<rect x="372.45" y="194.45" width="2.5" height="2.5" fill="#fff" stroke="#000" stroke-width="1"/>
<rect x="372.45" y="208.75" width="2.5" height="2.5" fill="#fff" stroke="#000" stroke-width="1"/>
<line x1="366.30" y1="183.30" x2="380.90" y2="183.30" stroke="#000" stroke-width="1.2" />
<line x1="373.60" y1="176.60" x2="373.60" y2="190.00" stroke="#000" stroke-width="1.1" />
<line x1="371.20" y1="176.60" x2="376.00" y2="176.60" stroke="#000" stroke-width="1.1" />
<line x1="371.20" y1="190.00" x2="376.00" y2="190.00" stroke="#000" stroke-width="1.1" />
<circle cx="392.80" cy="199.90" r="1.35" fill="#fff" stroke="#000" stroke-width="1"/>
<circle cx="387.70" cy="203.30" r="1.35" fill="#fff" stroke="#000" stroke-width="1"/>
<circle cx="390.50" cy="204.50" r="1.35" fill="#fff" stroke="#000" stroke-width="1"/>
<circle cx="393.50" cy="204.80" r="1.35" fill="#fff" stroke="#000" stroke-width="1"/>
<circle cx="396.50" cy="204.30" r="1.35" fill="#fff" stroke="#000" stroke-width="1"/>
<circle cx="392.80" cy="209.60" r="1.35" fill="#fff" stroke="#000" stroke-width="1"/>
<line x1="385.20" y1="204.60" x2="400.40" y2="204.60" stroke="#000" stroke-width="1.2" />
<line x1="392.80" y1="203.40" x2="392.80" y2="205.80" stroke="#000" stroke-width="1.1" />
<line x1="390.40" y1="203.40" x2="395.20" y2="203.40" stroke="#000" stroke-width="1.1" />
<line x1="390.40" y1="205.80" x2="395.20" y2="205.80" stroke="#000" stroke-width="1.1" />
<circle cx="410.00" cy="191.50" r="1.55" fill="#000"/>
<circle cx="414.40" cy="189.00" r="1.55" fill="#000"/>
<circle cx="411.50" cy="201.00" r="1.55" fill="#000"/>
<circle cx="410.00" cy="202.40" r="1.55" fill="#000"/>
<circle cx="413.40" cy="207.50" r="1.55" fill="#000"/>
<circle cx="410.00" cy="211.00" r="1.55" fill="#000"/>
<line x1="404.00" y1="201.40" x2="419.20" y2="201.40" stroke="#000" stroke-width="1.2" />
<line x1="411.60" y1="197.60" x2="411.60" y2="205.20" stroke="#000" stroke-width="1.1" />
<line x1="409.20" y1="197.60" x2="414.00" y2="197.60" stroke="#000" stroke-width="1.1" />
<line x1="409.20" y1="205.20" x2="414.00" y2="205.20" stroke="#000" stroke-width="1.1" />
<text transform="translate(443.20 185.10) rotate(-90)" font-size="6.8" font-weight="bold" text-anchor="middle">% MHC II<tspan font-size="4.76" dy="-2.45">lo</tspan><tspan dy="2.45">Ly6G</tspan><tspan font-size="4.76" dy="-2.45">-</tspan><tspan dy="2.45">Ly6C</tspan><tspan font-size="4.76" dy="-2.45">+</tspan><tspan dy="2.45">CD11b</tspan><tspan font-size="4.76" dy="-2.45">+</tspan></text>
<line x1="461.50" y1="151.80" x2="461.50" y2="216.70" stroke="#000" stroke-width="1.2" />
<line x1="461.00" y1="216.70" x2="520.00" y2="216.70" stroke="#000" stroke-width="1.2" />
<line x1="459.50" y1="216.70" x2="461.50" y2="216.70" stroke="#000" stroke-width="1.1" />
<text x="458.40" y="219.45" font-size="6.1" font-weight="bold" text-anchor="end" fill="#000" >0.00</text>
<line x1="459.50" y1="203.82" x2="461.50" y2="203.82" stroke="#000" stroke-width="1.1" />
<text x="458.40" y="206.57" font-size="6.1" font-weight="bold" text-anchor="end" fill="#000" >0.02</text>
<line x1="459.50" y1="190.94" x2="461.50" y2="190.94" stroke="#000" stroke-width="1.1" />
<text x="458.40" y="193.69" font-size="6.1" font-weight="bold" text-anchor="end" fill="#000" >0.04</text>
<line x1="459.50" y1="178.06" x2="461.50" y2="178.06" stroke="#000" stroke-width="1.1" />
<text x="458.40" y="180.81" font-size="6.1" font-weight="bold" text-anchor="end" fill="#000" >0.06</text>
<line x1="459.50" y1="165.18" x2="461.50" y2="165.18" stroke="#000" stroke-width="1.1" />
<text x="458.40" y="167.93" font-size="6.1" font-weight="bold" text-anchor="end" fill="#000" >0.08</text>
<line x1="459.50" y1="152.30" x2="461.50" y2="152.30" stroke="#000" stroke-width="1.1" />
<text x="458.40" y="155.05" font-size="6.1" font-weight="bold" text-anchor="end" fill="#000" >0.10</text>
<line x1="471.00" y1="216.70" x2="471.00" y2="218.90" stroke="#000" stroke-width="1.1" />
<line x1="489.50" y1="216.70" x2="489.50" y2="218.90" stroke="#000" stroke-width="1.1" />
<line x1="508.00" y1="216.70" x2="508.00" y2="218.90" stroke="#000" stroke-width="1.1" />
<text x="490.30" y="144.60" font-size="7.2" font-weight="bold" text-anchor="middle" fill="#000" >Retina</text>
<text transform="translate(472.50 224.10) rotate(-45)" font-size="6.25" font-weight="bold" text-anchor="end">No EAU</text>
<text transform="translate(491.00 224.10) rotate(-45)" font-size="6.25" font-weight="bold" text-anchor="end">EAU+BSS</text>
<text transform="translate(509.50 224.10) rotate(-45)" font-size="6.25" font-weight="bold" text-anchor="end">EAU+MSC</text>
<rect x="469.75" y="171.55" width="2.5" height="2.5" fill="#fff" stroke="#000" stroke-width="1"/>
<rect x="469.75" y="185.45" width="2.5" height="2.5" fill="#fff" stroke="#000" stroke-width="1"/>
<rect x="465.95" y="205.35" width="2.5" height="2.5" fill="#fff" stroke="#000" stroke-width="1"/>
<rect x="469.75" y="205.35" width="2.5" height="2.5" fill="#fff" stroke="#000" stroke-width="1"/>
<rect x="473.55" y="205.35" width="2.5" height="2.5" fill="#fff" stroke="#000" stroke-width="1"/>
<rect x="469.15" y="214.45" width="2.5" height="2.5" fill="#fff" stroke="#000" stroke-width="1"/>
<line x1="463.40" y1="199.10" x2="478.60" y2="199.10" stroke="#000" stroke-width="1.2" />
<line x1="471.00" y1="192.80" x2="471.00" y2="204.30" stroke="#000" stroke-width="1.1" />
<line x1="468.60" y1="192.80" x2="473.40" y2="192.80" stroke="#000" stroke-width="1.1" />
<line x1="468.60" y1="204.30" x2="473.40" y2="204.30" stroke="#000" stroke-width="1.1" />
<circle cx="487.60" cy="169.40" r="1.35" fill="#fff" stroke="#000" stroke-width="1"/>
<circle cx="492.00" cy="169.40" r="1.35" fill="#fff" stroke="#000" stroke-width="1"/>
<circle cx="489.50" cy="176.60" r="1.35" fill="#fff" stroke="#000" stroke-width="1"/>
<circle cx="488.50" cy="182.00" r="1.35" fill="#fff" stroke="#000" stroke-width="1"/>
<circle cx="487.60" cy="191.50" r="1.35" fill="#fff" stroke="#000" stroke-width="1"/>
<circle cx="492.00" cy="188.40" r="1.35" fill="#fff" stroke="#000" stroke-width="1"/>
<line x1="481.90" y1="179.10" x2="497.10" y2="179.10" stroke="#000" stroke-width="1.2" />
<line x1="489.50" y1="175.30" x2="489.50" y2="182.90" stroke="#000" stroke-width="1.1" />
<line x1="487.10" y1="175.30" x2="491.90" y2="175.30" stroke="#000" stroke-width="1.1" />
<line x1="487.10" y1="182.90" x2="491.90" y2="182.90" stroke="#000" stroke-width="1.1" />
<circle cx="506.60" cy="169.00" r="1.55" fill="#000"/>
<circle cx="509.90" cy="166.50" r="1.55" fill="#000"/>
<circle cx="508.00" cy="183.30" r="1.55" fill="#000"/>
<circle cx="508.50" cy="190.00" r="1.55" fill="#000"/>
<circle cx="508.00" cy="194.70" r="1.55" fill="#000"/>
<circle cx="508.00" cy="199.50" r="1.55" fill="#000"/>
<line x1="500.40" y1="183.90" x2="515.60" y2="183.90" stroke="#000" stroke-width="1.2" />
<line x1="508.00" y1="178.50" x2="508.00" y2="189.60" stroke="#000" stroke-width="1.1" />
<line x1="505.60" y1="178.50" x2="510.40" y2="178.50" stroke="#000" stroke-width="1.1" />
<line x1="505.60" y1="189.60" x2="510.40" y2="189.60" stroke="#000" stroke-width="1.1" />
<text x="6.50" y="264.90" font-size="12.2" font-weight="normal" text-anchor="start" fill="#000" >C</text>
<line x1="56.40" y1="277.50" x2="56.40" y2="345.60" stroke="#000" stroke-width="1.2" />
<line x1="55.90" y1="345.60" x2="90.70" y2="345.60" stroke="#000" stroke-width="1.2" />
<line x1="54.40" y1="345.60" x2="56.40" y2="345.60" stroke="#000" stroke-width="1.1" />
<text x="53.30" y="348.35" font-size="6.1" font-weight="bold" text-anchor="end" fill="#000" >0</text>
<line x1="54.40" y1="328.70" x2="56.40" y2="328.70" stroke="#000" stroke-width="1.1" />
<text x="53.30" y="331.45" font-size="6.1" font-weight="bold" text-anchor="end" fill="#000" >30</text>
<line x1="54.40" y1="311.80" x2="56.40" y2="311.80" stroke="#000" stroke-width="1.1" />
<text x="53.30" y="314.55" font-size="6.1" font-weight="bold" text-anchor="end" fill="#000" >60</text>
<line x1="54.40" y1="294.90" x2="56.40" y2="294.90" stroke="#000" stroke-width="1.1" />
<text x="53.30" y="297.65" font-size="6.1" font-weight="bold" text-anchor="end" fill="#000" >90</text>
<line x1="54.40" y1="278.00" x2="56.40" y2="278.00" stroke="#000" stroke-width="1.1" />
<text x="53.30" y="280.75" font-size="6.1" font-weight="bold" text-anchor="end" fill="#000" >120</text>
<text x="73.40" y="268.70" font-size="7.4" font-weight="bold" text-anchor="middle" fill="#000" >iNOS</text>
<line x1="65.40" y1="343.06" x2="65.40" y2="342.61" stroke="#000" stroke-width="1.1" />
<line x1="62.80" y1="342.61" x2="68.00" y2="342.61" stroke="#000" stroke-width="1.1" />
<rect x="60.65" y="343.62" width="9.50" height="1.99" fill="#fff" stroke="#000" stroke-width="1.1"/>
<line x1="82.60" y1="301.49" x2="82.60" y2="287.18" stroke="#000" stroke-width="1.1" />
<line x1="80.00" y1="287.18" x2="85.20" y2="287.18" stroke="#000" stroke-width="1.1" />
<rect x="77.85" y="302.04" width="9.50" height="43.56" fill="#000" stroke="#000" stroke-width="1.1"/>
<line x1="65.40" y1="345.60" x2="65.40" y2="347.80" stroke="#000" stroke-width="1.1" />
<line x1="82.60" y1="345.60" x2="82.60" y2="347.80" stroke="#000" stroke-width="1.1" />
<text transform="translate(66.60 352.80) rotate(-45)" font-size="6.2" font-weight="bold" text-anchor="end">BSS</text>
<text transform="translate(83.80 352.80) rotate(-45)" font-size="6.2" font-weight="bold" text-anchor="end">MSC</text>
<polyline points="65.40,285.20 65.40,282.70 82.60,282.70 82.60,285.20" fill="none" stroke="#000" stroke-width="1.1"/>
<text x="74.50" y="282.15" font-size="5.6" font-weight="bold" text-anchor="middle" fill="#000" letter-spacing="1.0">**</text>
<text transform="translate(41.00 311.60) rotate(-90)" font-size="6.9" font-weight="bold" text-anchor="middle">RQ</text>
<line x1="119.20" y1="278.40" x2="119.20" y2="346.30" stroke="#000" stroke-width="1.2" />
<line x1="118.70" y1="346.30" x2="155.50" y2="346.30" stroke="#000" stroke-width="1.2" />
<line x1="117.20" y1="346.30" x2="119.20" y2="346.30" stroke="#000" stroke-width="1.1" />
<text x="116.10" y="349.05" font-size="6.1" font-weight="bold" text-anchor="end" fill="#000" >0</text>
<line x1="117.20" y1="323.83" x2="119.20" y2="323.83" stroke="#000" stroke-width="1.1" />
<text x="116.10" y="326.58" font-size="6.1" font-weight="bold" text-anchor="end" fill="#000" >200</text>
<line x1="117.20" y1="301.37" x2="119.20" y2="301.37" stroke="#000" stroke-width="1.1" />
<text x="116.10" y="304.12" font-size="6.1" font-weight="bold" text-anchor="end" fill="#000" >400</text>
<line x1="117.20" y1="278.90" x2="119.20" y2="278.90" stroke="#000" stroke-width="1.1" />
<text x="116.10" y="281.65" font-size="6.1" font-weight="bold" text-anchor="end" fill="#000" >600</text>
<text x="136.50" y="269.50" font-size="7.4" font-weight="bold" text-anchor="middle" fill="#000" >Arg1</text>
<line x1="128.20" y1="345.96" x2="128.20" y2="345.96" stroke="#000" stroke-width="1.1" />
<line x1="125.60" y1="345.96" x2="130.80" y2="345.96" stroke="#000" stroke-width="1.1" />
<rect x="123.45" y="346.51" width="9.50" height="0.10" fill="#fff" stroke="#000" stroke-width="1.1"/>
<line x1="145.40" y1="299.49" x2="145.40" y2="284.78" stroke="#000" stroke-width="1.1" />
<line x1="142.80" y1="284.78" x2="148.00" y2="284.78" stroke="#000" stroke-width="1.1" />
<rect x="140.65" y="300.04" width="9.50" height="46.26" fill="#000" stroke="#000" stroke-width="1.1"/>
<line x1="128.20" y1="346.30" x2="128.20" y2="348.50" stroke="#000" stroke-width="1.1" />
<line x1="145.40" y1="346.30" x2="145.40" y2="348.50" stroke="#000" stroke-width="1.1" />
<text transform="translate(129.40 353.50) rotate(-45)" font-size="6.2" font-weight="bold" text-anchor="end">BSS</text>
<text transform="translate(146.60 353.50) rotate(-45)" font-size="6.2" font-weight="bold" text-anchor="end">MSC</text>
<polyline points="128.20,284.25 128.20,281.75 145.40,281.75 145.40,284.25" fill="none" stroke="#000" stroke-width="1.1"/>
<text x="137.30" y="281.20" font-size="5.6" font-weight="bold" text-anchor="middle" fill="#000" letter-spacing="1.0">**</text>
<text transform="translate(104.70 311.90) rotate(-90)" font-size="6.9" font-weight="bold" text-anchor="middle">RQ</text>
<line x1="183.50" y1="278.40" x2="183.50" y2="346.40" stroke="#000" stroke-width="1.2" />
<line x1="183.00" y1="346.40" x2="219.50" y2="346.40" stroke="#000" stroke-width="1.2" />
<line x1="181.50" y1="346.40" x2="183.50" y2="346.40" stroke="#000" stroke-width="1.1" />
<text x="180.40" y="349.15" font-size="6.1" font-weight="bold" text-anchor="end" fill="#000" >0</text>
<line x1="181.50" y1="323.90" x2="183.50" y2="323.90" stroke="#000" stroke-width="1.1" />
<text x="180.40" y="326.65" font-size="6.1" font-weight="bold" text-anchor="end" fill="#000" >6</text>
<line x1="181.50" y1="301.40" x2="183.50" y2="301.40" stroke="#000" stroke-width="1.1" />
<text x="180.40" y="304.15" font-size="6.1" font-weight="bold" text-anchor="end" fill="#000" >12</text>
<line x1="181.50" y1="278.90" x2="183.50" y2="278.90" stroke="#000" stroke-width="1.1" />
<text x="180.40" y="281.65" font-size="6.1" font-weight="bold" text-anchor="end" fill="#000" >18</text>
<text x="201.00" y="269.90" font-size="7.4" font-weight="bold" text-anchor="middle" fill="#000" >PTGS2</text>
<line x1="192.50" y1="335.60" x2="192.50" y2="332.41" stroke="#000" stroke-width="1.1" />
<line x1="189.90" y1="332.41" x2="195.10" y2="332.41" stroke="#000" stroke-width="1.1" />
<rect x="187.75" y="336.15" width="9.50" height="10.25" fill="#fff" stroke="#000" stroke-width="1.1"/>
<line x1="209.70" y1="303.80" x2="209.70" y2="296.19" stroke="#000" stroke-width="1.1" />
<line x1="207.10" y1="296.19" x2="212.30" y2="296.19" stroke="#000" stroke-width="1.1" />
<rect x="204.95" y="304.35" width="9.50" height="42.05" fill="#000" stroke="#000" stroke-width="1.1"/>
<line x1="192.50" y1="346.40" x2="192.50" y2="348.60" stroke="#000" stroke-width="1.1" />
<line x1="209.70" y1="346.40" x2="209.70" y2="348.60" stroke="#000" stroke-width="1.1" />
<text transform="translate(193.70 353.60) rotate(-45)" font-size="6.2" font-weight="bold" text-anchor="end">BSS</text>
<text transform="translate(210.90 353.60) rotate(-45)" font-size="6.2" font-weight="bold" text-anchor="end">MSC</text>
<polyline points="192.50,293.75 192.50,291.25 209.70,291.25 209.70,293.75" fill="none" stroke="#000" stroke-width="1.1"/>
<text x="201.60" y="290.70" font-size="5.6" font-weight="bold" text-anchor="middle" fill="#000" letter-spacing="1.0">**</text>
<text transform="translate(168.70 312.30) rotate(-90)" font-size="6.9" font-weight="bold" text-anchor="middle">RQ</text>
<line x1="246.80" y1="279.30" x2="246.80" y2="347.20" stroke="#000" stroke-width="1.2" />
<line x1="246.30" y1="347.20" x2="283.20" y2="347.20" stroke="#000" stroke-width="1.2" />
<line x1="244.80" y1="347.20" x2="246.80" y2="347.20" stroke="#000" stroke-width="1.1" />
<text x="243.70" y="349.95" font-size="6.1" font-weight="bold" text-anchor="end" fill="#000" >0</text>
<line x1="244.80" y1="330.35" x2="246.80" y2="330.35" stroke="#000" stroke-width="1.1" />
<text x="243.70" y="333.10" font-size="6.1" font-weight="bold" text-anchor="end" fill="#000" >3</text>
<line x1="244.80" y1="313.50" x2="246.80" y2="313.50" stroke="#000" stroke-width="1.1" />
<text x="243.70" y="316.25" font-size="6.1" font-weight="bold" text-anchor="end" fill="#000" >6</text>
<line x1="244.80" y1="296.65" x2="246.80" y2="296.65" stroke="#000" stroke-width="1.1" />
<text x="243.70" y="299.40" font-size="6.1" font-weight="bold" text-anchor="end" fill="#000" >9</text>
<line x1="244.80" y1="279.80" x2="246.80" y2="279.80" stroke="#000" stroke-width="1.1" />
<text x="243.70" y="282.55" font-size="6.1" font-weight="bold" text-anchor="end" fill="#000" >12</text>
<text x="264.40" y="270.60" font-size="7.4" font-weight="bold" text-anchor="middle" fill="#000" >M-CSF</text>
<line x1="255.80" y1="332.09" x2="255.80" y2="328.72" stroke="#000" stroke-width="1.1" />
<line x1="253.20" y1="328.72" x2="258.40" y2="328.72" stroke="#000" stroke-width="1.1" />
<rect x="251.05" y="332.64" width="9.50" height="14.56" fill="#fff" stroke="#000" stroke-width="1.1"/>
<line x1="273.00" y1="301.82" x2="273.00" y2="295.19" stroke="#000" stroke-width="1.1" />
<line x1="270.40" y1="295.19" x2="275.60" y2="295.19" stroke="#000" stroke-width="1.1" />
<rect x="268.25" y="302.37" width="9.50" height="44.83" fill="#000" stroke="#000" stroke-width="1.1"/>
<line x1="255.80" y1="347.20" x2="255.80" y2="349.40" stroke="#000" stroke-width="1.1" />
<line x1="273.00" y1="347.20" x2="273.00" y2="349.40" stroke="#000" stroke-width="1.1" />
<text transform="translate(257.00 354.40) rotate(-45)" font-size="6.2" font-weight="bold" text-anchor="end">BSS</text>
<text transform="translate(274.20 354.40) rotate(-45)" font-size="6.2" font-weight="bold" text-anchor="end">MSC</text>
<polyline points="255.80,292.25 255.80,289.75 273.00,289.75 273.00,292.25" fill="none" stroke="#000" stroke-width="1.1"/>
<text x="264.90" y="289.20" font-size="5.6" font-weight="bold" text-anchor="middle" fill="#000" letter-spacing="1.0">**</text>
<text transform="translate(232.30 313.30) rotate(-90)" font-size="6.9" font-weight="bold" text-anchor="middle">RQ</text>
<line x1="311.50" y1="279.80" x2="311.50" y2="348.00" stroke="#000" stroke-width="1.2" />
<line x1="311.00" y1="348.00" x2="347.80" y2="348.00" stroke="#000" stroke-width="1.2" />
<line x1="309.50" y1="348.00" x2="311.50" y2="348.00" stroke="#000" stroke-width="1.1" />
<text x="308.40" y="350.75" font-size="6.1" font-weight="bold" text-anchor="end" fill="#000" >0</text>
<line x1="309.50" y1="331.07" x2="311.50" y2="331.07" stroke="#000" stroke-width="1.1" />
<text x="308.40" y="333.82" font-size="6.1" font-weight="bold" text-anchor="end" fill="#000" >1</text>
<line x1="309.50" y1="314.15" x2="311.50" y2="314.15" stroke="#000" stroke-width="1.1" />
<text x="308.40" y="316.90" font-size="6.1" font-weight="bold" text-anchor="end" fill="#000" >2</text>
<line x1="309.50" y1="297.23" x2="311.50" y2="297.23" stroke="#000" stroke-width="1.1" />
<text x="308.40" y="299.98" font-size="6.1" font-weight="bold" text-anchor="end" fill="#000" >3</text>
<line x1="309.50" y1="280.30" x2="311.50" y2="280.30" stroke="#000" stroke-width="1.1" />
<text x="308.40" y="283.05" font-size="6.1" font-weight="bold" text-anchor="end" fill="#000" >4</text>
<text x="328.70" y="271.00" font-size="7.4" font-weight="bold" text-anchor="middle" fill="#000" >GM-CSF</text>
<line x1="320.50" y1="340.05" x2="320.50" y2="335.64" stroke="#000" stroke-width="1.1" />
<line x1="317.90" y1="335.64" x2="323.10" y2="335.64" stroke="#000" stroke-width="1.1" />
<rect x="315.75" y="340.60" width="9.50" height="7.40" fill="#fff" stroke="#000" stroke-width="1.1"/>
<line x1="337.70" y1="305.69" x2="337.70" y2="299.09" stroke="#000" stroke-width="1.1" />
<line x1="335.10" y1="299.09" x2="340.30" y2="299.09" stroke="#000" stroke-width="1.1" />
<rect x="332.95" y="306.24" width="9.50" height="41.76" fill="#000" stroke="#000" stroke-width="1.1"/>
<line x1="320.50" y1="348.00" x2="320.50" y2="350.20" stroke="#000" stroke-width="1.1" />
<line x1="337.70" y1="348.00" x2="337.70" y2="350.20" stroke="#000" stroke-width="1.1" />
<text transform="translate(321.70 355.20) rotate(-45)" font-size="6.2" font-weight="bold" text-anchor="end">BSS</text>
<text transform="translate(338.90 355.20) rotate(-45)" font-size="6.2" font-weight="bold" text-anchor="end">MSC</text>
<polyline points="320.50,296.75 320.50,294.25 337.70,294.25 337.70,296.75" fill="none" stroke="#000" stroke-width="1.1"/>
<text x="329.60" y="293.70" font-size="5.6" font-weight="bold" text-anchor="middle" fill="#000" letter-spacing="1.0">*</text>
<text transform="translate(296.50 313.50) rotate(-90)" font-size="6.9" font-weight="bold" text-anchor="middle">RQ</text>
<line x1="375.40" y1="280.70" x2="375.40" y2="348.60" stroke="#000" stroke-width="1.2" />
<line x1="374.90" y1="348.60" x2="411.80" y2="348.60" stroke="#000" stroke-width="1.2" />
<line x1="373.40" y1="348.60" x2="375.40" y2="348.60" stroke="#000" stroke-width="1.1" />
<text x="372.30" y="351.35" font-size="6.1" font-weight="bold" text-anchor="end" fill="#000" >0</text>
<line x1="373.40" y1="335.12" x2="375.40" y2="335.12" stroke="#000" stroke-width="1.1" />
<text x="372.30" y="337.87" font-size="6.1" font-weight="bold" text-anchor="end" fill="#000" >1</text>
<line x1="373.40" y1="321.64" x2="375.40" y2="321.64" stroke="#000" stroke-width="1.1" />
<text x="372.30" y="324.39" font-size="6.1" font-weight="bold" text-anchor="end" fill="#000" >2</text>
<line x1="373.40" y1="308.16" x2="375.40" y2="308.16" stroke="#000" stroke-width="1.1" />
<text x="372.30" y="310.91" font-size="6.1" font-weight="bold" text-anchor="end" fill="#000" >3</text>
<line x1="373.40" y1="294.68" x2="375.40" y2="294.68" stroke="#000" stroke-width="1.1" />
<text x="372.30" y="297.43" font-size="6.1" font-weight="bold" text-anchor="end" fill="#000" >4</text>
<line x1="373.40" y1="281.20" x2="375.40" y2="281.20" stroke="#000" stroke-width="1.1" />
<text x="372.30" y="283.95" font-size="6.1" font-weight="bold" text-anchor="end" fill="#000" >5</text>
<text x="392.00" y="271.80" font-size="7.4" font-weight="bold" text-anchor="middle" fill="#000" >IL-10</text>
<line x1="384.40" y1="323.39" x2="384.40" y2="320.02" stroke="#000" stroke-width="1.1" />
<line x1="381.80" y1="320.02" x2="387.00" y2="320.02" stroke="#000" stroke-width="1.1" />
<rect x="379.65" y="323.94" width="9.50" height="24.66" fill="#fff" stroke="#000" stroke-width="1.1"/>
<line x1="401.60" y1="301.29" x2="401.60" y2="296.84" stroke="#000" stroke-width="1.1" />
<line x1="399.00" y1="296.84" x2="404.20" y2="296.84" stroke="#000" stroke-width="1.1" />
<rect x="396.85" y="301.84" width="9.50" height="46.76" fill="#000" stroke="#000" stroke-width="1.1"/>
<line x1="384.40" y1="348.60" x2="384.40" y2="350.80" stroke="#000" stroke-width="1.1" />
<line x1="401.60" y1="348.60" x2="401.60" y2="350.80" stroke="#000" stroke-width="1.1" />
<text transform="translate(385.60 355.80) rotate(-45)" font-size="6.2" font-weight="bold" text-anchor="end">BSS</text>
<text transform="translate(402.80 355.80) rotate(-45)" font-size="6.2" font-weight="bold" text-anchor="end">MSC</text>
<polyline points="384.40,294.25 384.40,291.75 401.60,291.75 401.60,294.25" fill="none" stroke="#000" stroke-width="1.1"/>
<text x="393.50" y="291.20" font-size="5.6" font-weight="bold" text-anchor="middle" fill="#000" letter-spacing="1.0">*</text>
<text transform="translate(360.50 314.10) rotate(-90)" font-size="6.9" font-weight="bold" text-anchor="middle">RQ</text>
</svg></body></html>
